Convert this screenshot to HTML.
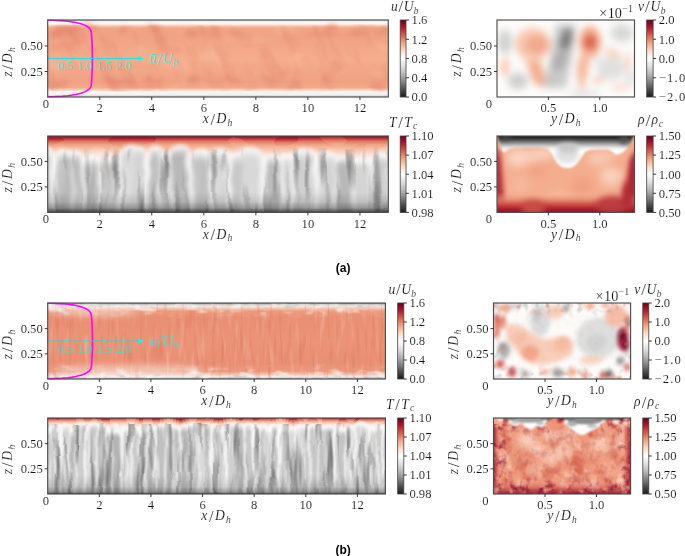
<!DOCTYPE html>
<html><head><meta charset="utf-8"><style>
html,body{margin:0;padding:0;background:#fff;}
body{width:685px;height:556px;overflow:hidden;}
svg{display:block;}
</style></head><body>
<svg width="685" height="556" viewBox="0 0 685 556">
<defs><linearGradient id="lg1" x1="0" y1="0" x2="0" y2="1"><stop offset="0.0000" stop-color="#d0d0d0"/><stop offset="0.0150" stop-color="#ececec"/><stop offset="0.0350" stop-color="#f9f9f9"/><stop offset="0.0550" stop-color="#fcefe8"/><stop offset="0.0850" stop-color="#f6bc9f"/><stop offset="0.1100" stop-color="#f2a687"/><stop offset="0.2000" stop-color="#f0a283"/><stop offset="0.5000" stop-color="#f5ad8c"/><stop offset="0.8000" stop-color="#f0a283"/><stop offset="0.8750" stop-color="#f3a98a"/><stop offset="0.9050" stop-color="#f8ccb8"/><stop offset="0.9300" stop-color="#fdf6f2"/><stop offset="0.9650" stop-color="#f4f4f4"/><stop offset="1.0000" stop-color="#c8c8c8"/></linearGradient>
<filter id="nf2" filterUnits="userSpaceOnUse" x="47.7" y="24.0" width="340.6" height="68.0" color-interpolation-filters="sRGB"><feTurbulence type="fractalNoise" baseFrequency="0.035 0.05" numOctaves="2" seed="5"/><feColorMatrix type="matrix" values="0 0 0 0 0.878431  0 0 0 0 0.478431  0 0 0 0 0.368627  1.6 0 0 0 -0.92"/></filter>
<filter id="nf3" filterUnits="userSpaceOnUse" x="47.7" y="24.0" width="340.6" height="68.0" color-interpolation-filters="sRGB"><feTurbulence type="fractalNoise" baseFrequency="0.03 0.04" numOctaves="2" seed="9"/><feColorMatrix type="matrix" values="0 0 0 0 0.988235  0 0 0 0 0.847059  0 0 0 0 0.776471  1.6 0 0 0 -0.92"/></filter>
<filter id="nf4" filterUnits="userSpaceOnUse" x="-12.3" y="-40.0" width="460.6" height="197.0" color-interpolation-filters="sRGB"><feTurbulence type="fractalNoise" baseFrequency="0.06 0.016" numOctaves="3" seed="15"/><feColorMatrix type="matrix" values="0 0 0 0 0.878431  0 0 0 0 0.478431  0 0 0 0 0.376471  2.4 0 0 0 -1.3"/></filter>
<clipPath id="cp5"><rect x="47.70" y="25.00" width="340.60" height="66.00"/></clipPath>
<filter id="bf6" filterUnits="userSpaceOnUse" x="27.7" y="0.0" width="380.6" height="117.0" color-interpolation-filters="sRGB"><feGaussianBlur stdDeviation="2.2"/></filter>
<clipPath id="cp7"><rect x="47.70" y="20.00" width="340.60" height="77.00"/></clipPath>
<clipPath id="cp8"><rect x="47.20" y="19.50" width="341.10" height="78.00"/></clipPath>
<filter id="df9" filterUnits="userSpaceOnUse" x="27.7" y="116.0" width="380.6" height="116.4" color-interpolation-filters="sRGB"><feTurbulence type="fractalNoise" baseFrequency="0.035 0.06" numOctaves="1" seed="11" result="t"/><feDisplacementMap in="SourceGraphic" in2="t" scale="4" xChannelSelector="R" yChannelSelector="G"/></filter>
<linearGradient id="lg10" x1="0" y1="136" x2="0" y2="212.4" gradientUnits="userSpaceOnUse"><stop offset="0.0000" stop-color="#8a0c28"/><stop offset="0.0200" stop-color="#a81c2e"/><stop offset="0.0450" stop-color="#c84a44"/><stop offset="0.0750" stop-color="#e08068"/><stop offset="0.1150" stop-color="#f0a486"/><stop offset="0.1700" stop-color="#f6c2aa"/><stop offset="0.2400" stop-color="#fbe0d4"/><stop offset="0.3200" stop-color="#fbf4f0"/><stop offset="0.4000" stop-color="#f6f6f6"/><stop offset="1.0000" stop-color="#f0f0f0"/></linearGradient>
<linearGradient id="lg11" x1="0" y1="0" x2="0" y2="1"><stop offset="0.0000" stop-color="#f4f4f4"/><stop offset="0.1400" stop-color="#cccccc"/><stop offset="1.0000" stop-color="#cccccc"/></linearGradient>
<linearGradient id="lg12" x1="0" y1="0" x2="0" y2="1"><stop offset="0.0000" stop-color="#f4f4f4"/><stop offset="0.1400" stop-color="#b8b8b8"/><stop offset="1.0000" stop-color="#b8b8b8"/></linearGradient>
<linearGradient id="lg13" x1="0" y1="0" x2="0" y2="1"><stop offset="0.0000" stop-color="#f4f4f4"/><stop offset="0.1400" stop-color="#bcbcbc"/><stop offset="1.0000" stop-color="#bcbcbc"/></linearGradient>
<linearGradient id="lg14" x1="0" y1="0" x2="0" y2="1"><stop offset="0.0000" stop-color="#f4f4f4"/><stop offset="0.1400" stop-color="#d4d4d4"/><stop offset="1.0000" stop-color="#d4d4d4"/></linearGradient>
<linearGradient id="lg15" x1="0" y1="0" x2="0" y2="1"><stop offset="0.0000" stop-color="#f4f4f4"/><stop offset="0.1400" stop-color="#c0c0c0"/><stop offset="1.0000" stop-color="#c0c0c0"/></linearGradient>
<linearGradient id="lg16" x1="0" y1="0" x2="0" y2="1"><stop offset="0.0000" stop-color="#f4f4f4"/><stop offset="0.1400" stop-color="#c8c8c8"/><stop offset="1.0000" stop-color="#c8c8c8"/></linearGradient>
<linearGradient id="lg17" x1="0" y1="0" x2="0" y2="1"><stop offset="0.0000" stop-color="#f4f4f4"/><stop offset="0.1400" stop-color="#d8d8d8"/><stop offset="1.0000" stop-color="#d8d8d8"/></linearGradient>
<linearGradient id="lg18" x1="0" y1="0" x2="0" y2="1"><stop offset="0.0000" stop-color="#f4f4f4"/><stop offset="0.1400" stop-color="#d0d0d0"/><stop offset="1.0000" stop-color="#d0d0d0"/></linearGradient>
<filter id="bf19" filterUnits="userSpaceOnUse" x="27.7" y="116.0" width="380.6" height="116.4" color-interpolation-filters="sRGB"><feGaussianBlur stdDeviation="1.9"/></filter>
<filter id="df20" filterUnits="userSpaceOnUse" x="27.7" y="116.0" width="380.6" height="116.4" color-interpolation-filters="sRGB"><feTurbulence type="fractalNoise" baseFrequency="0.025 0.05" numOctaves="1" seed="21" result="t"/><feDisplacementMap in="SourceGraphic" in2="t" scale="9" xChannelSelector="R" yChannelSelector="G"/></filter>
<filter id="df21" filterUnits="userSpaceOnUse" x="27.7" y="116.0" width="380.6" height="116.4" color-interpolation-filters="sRGB"><feTurbulence type="fractalNoise" baseFrequency="0.025 0.04" numOctaves="1" seed="27" result="t"/><feDisplacementMap in="SourceGraphic" in2="t" scale="7" xChannelSelector="R" yChannelSelector="G"/></filter>
<linearGradient id="lg23" x1="0" y1="146" x2="0" y2="166" gradientUnits="userSpaceOnUse"><stop offset="0.0000" stop-color="#000"/><stop offset="0.5000" stop-color="#fff"/><stop offset="1.0000" stop-color="#fff"/></linearGradient>
<mask id="mk22" maskUnits="userSpaceOnUse" x="27.7" y="116.0" width="380.6" height="116.4"><rect x="27.7" y="116.0" width="380.6" height="116.4" fill="url(#lg23)"/></mask>
<filter id="nf24" filterUnits="userSpaceOnUse" x="37.7" y="148.0" width="360.6" height="74.4" color-interpolation-filters="sRGB"><feTurbulence type="fractalNoise" baseFrequency="0.11 0.014" numOctaves="2" seed="4"/><feColorMatrix type="matrix" values="0 0 0 0 0.333333  0 0 0 0 0.333333  0 0 0 0 0.333333  2.6 0 0 0 -1.35"/></filter>
<filter id="nf25" filterUnits="userSpaceOnUse" x="37.7" y="150.0" width="360.6" height="72.4" color-interpolation-filters="sRGB"><feTurbulence type="fractalNoise" baseFrequency="0.07 0.014" numOctaves="2" seed="8"/><feColorMatrix type="matrix" values="0 0 0 0 1  0 0 0 0 1  0 0 0 0 1  2.2 0 0 0 -1.1"/></filter>
<linearGradient id="lg26" x1="0" y1="136" x2="0" y2="212.4" gradientUnits="userSpaceOnUse"><stop offset="0.0000" stop-color="#000" stop-opacity="0.000"/><stop offset="0.7400" stop-color="#000" stop-opacity="0.000"/><stop offset="0.8600" stop-color="#000" stop-opacity="0.100"/><stop offset="0.9400" stop-color="#000" stop-opacity="0.300"/><stop offset="1.0000" stop-color="#000" stop-opacity="0.680"/></linearGradient>
<clipPath id="cp27"><rect x="47.70" y="136.00" width="340.60" height="76.40"/></clipPath>
<filter id="bf28" filterUnits="userSpaceOnUse" x="467.0" y="-10.0" width="197.5" height="137.0" color-interpolation-filters="sRGB"><feGaussianBlur stdDeviation="3.8"/></filter>
<clipPath id="cp29"><rect x="497.00" y="20.00" width="137.50" height="77.00"/></clipPath>
<filter id="bf30" filterUnits="userSpaceOnUse" x="467.0" y="106.0" width="197.5" height="136.4" color-interpolation-filters="sRGB"><feGaussianBlur stdDeviation="4"/></filter>
<filter id="bf31" filterUnits="userSpaceOnUse" x="467.0" y="106.0" width="197.5" height="136.4" color-interpolation-filters="sRGB"><feGaussianBlur stdDeviation="2.6"/></filter>
<linearGradient id="lg32" x1="0" y1="212.4" x2="0" y2="192.4" gradientUnits="userSpaceOnUse"><stop offset="0.0000" stop-color="#8e0c2c"/><stop offset="0.2000" stop-color="#b3202f"/><stop offset="0.4500" stop-color="#d05a4c"/><stop offset="0.7000" stop-color="#e88a70" stop-opacity="0.600"/><stop offset="1.0000" stop-color="#f4ae8f" stop-opacity="0.000"/></linearGradient>
<filter id="bf33" filterUnits="userSpaceOnUse" x="467.0" y="106.0" width="197.5" height="136.4" color-interpolation-filters="sRGB"><feGaussianBlur stdDeviation="3.0"/></filter>
<linearGradient id="lg34" x1="0" y1="136" x2="0" y2="162" gradientUnits="userSpaceOnUse"><stop offset="0.0000" stop-color="#141414"/><stop offset="0.0800" stop-color="#2c2c2c"/><stop offset="0.1800" stop-color="#5c5c5c"/><stop offset="0.2900" stop-color="#9c9c9c"/><stop offset="0.3900" stop-color="#d0d0d0"/><stop offset="0.4800" stop-color="#f2f2f2"/><stop offset="0.5600" stop-color="#ffffff"/><stop offset="1.0000" stop-color="#ffffff"/></linearGradient>
<filter id="bf35" filterUnits="userSpaceOnUse" x="467.0" y="106.0" width="197.5" height="136.4" color-interpolation-filters="sRGB"><feGaussianBlur stdDeviation="1.3"/></filter>
<filter id="bf36" filterUnits="userSpaceOnUse" x="467.0" y="106.0" width="197.5" height="136.4" color-interpolation-filters="sRGB"><feGaussianBlur stdDeviation="2.4"/></filter>
<clipPath id="cp37"><rect x="497.00" y="136.00" width="137.50" height="76.40"/></clipPath>
<linearGradient id="lg38" x1="0" y1="0" x2="0" y2="1"><stop offset="0.0000" stop-color="#67001f"/><stop offset="0.1000" stop-color="#b2182b"/><stop offset="0.2000" stop-color="#d6604d"/><stop offset="0.3000" stop-color="#f4a582"/><stop offset="0.4000" stop-color="#fddbc7"/><stop offset="0.5000" stop-color="#ffffff"/><stop offset="0.6000" stop-color="#e0e0e0"/><stop offset="0.7000" stop-color="#bababa"/><stop offset="0.8000" stop-color="#878787"/><stop offset="0.9000" stop-color="#4d4d4d"/><stop offset="1.0000" stop-color="#1a1a1a"/></linearGradient>
<linearGradient id="lg39" x1="0" y1="0" x2="0" y2="1"><stop offset="0.0000" stop-color="#67001f"/><stop offset="0.1000" stop-color="#b2182b"/><stop offset="0.2000" stop-color="#d6604d"/><stop offset="0.3000" stop-color="#f4a582"/><stop offset="0.4000" stop-color="#fddbc7"/><stop offset="0.5000" stop-color="#ffffff"/><stop offset="0.6000" stop-color="#e0e0e0"/><stop offset="0.7000" stop-color="#bababa"/><stop offset="0.8000" stop-color="#878787"/><stop offset="0.9000" stop-color="#4d4d4d"/><stop offset="1.0000" stop-color="#1a1a1a"/></linearGradient>
<linearGradient id="lg40" x1="0" y1="0" x2="0" y2="1"><stop offset="0.0000" stop-color="#67001f"/><stop offset="0.1000" stop-color="#b2182b"/><stop offset="0.2000" stop-color="#d6604d"/><stop offset="0.3000" stop-color="#f4a582"/><stop offset="0.4000" stop-color="#fddbc7"/><stop offset="0.5000" stop-color="#ffffff"/><stop offset="0.6000" stop-color="#e0e0e0"/><stop offset="0.7000" stop-color="#bababa"/><stop offset="0.8000" stop-color="#878787"/><stop offset="0.9000" stop-color="#4d4d4d"/><stop offset="1.0000" stop-color="#1a1a1a"/></linearGradient>
<linearGradient id="lg41" x1="0" y1="0" x2="0" y2="1"><stop offset="0.0000" stop-color="#67001f"/><stop offset="0.1000" stop-color="#b2182b"/><stop offset="0.2000" stop-color="#d6604d"/><stop offset="0.3000" stop-color="#f4a582"/><stop offset="0.4000" stop-color="#fddbc7"/><stop offset="0.5000" stop-color="#ffffff"/><stop offset="0.6000" stop-color="#e0e0e0"/><stop offset="0.7000" stop-color="#bababa"/><stop offset="0.8000" stop-color="#878787"/><stop offset="0.9000" stop-color="#4d4d4d"/><stop offset="1.0000" stop-color="#1a1a1a"/></linearGradient>
<linearGradient id="lg42" x1="0" y1="0" x2="0" y2="1"><stop offset="0.0000" stop-color="#8a8a8a"/><stop offset="0.0200" stop-color="#c4c4c4"/><stop offset="0.0400" stop-color="#eeeae8"/><stop offset="0.0700" stop-color="#f4c8b4"/><stop offset="0.1100" stop-color="#ec9a7c"/><stop offset="0.2000" stop-color="#e98f72"/><stop offset="0.5000" stop-color="#eb9476"/><stop offset="0.8000" stop-color="#e98f72"/><stop offset="0.9000" stop-color="#ec9a7e"/><stop offset="0.9400" stop-color="#f3c4b0"/><stop offset="0.9650" stop-color="#f4ecea"/><stop offset="0.9850" stop-color="#d0d0d0"/><stop offset="1.0000" stop-color="#909090"/></linearGradient>
<filter id="nf43" filterUnits="userSpaceOnUse" x="47.7" y="303.0" width="337.7" height="76.0" color-interpolation-filters="sRGB"><feTurbulence type="fractalNoise" baseFrequency="0.25 0.03" numOctaves="2" seed="3"/><feColorMatrix type="matrix" values="0 0 0 0 0.831373  0 0 0 0 0.4  0 0 0 0 0.313725  1.8 0 0 0 -0.98"/></filter>
<filter id="nf44" filterUnits="userSpaceOnUse" x="47.7" y="303.0" width="337.7" height="76.0" color-interpolation-filters="sRGB"><feTurbulence type="fractalNoise" baseFrequency="0.2 0.03" numOctaves="2" seed="7"/><feColorMatrix type="matrix" values="0 0 0 0 0.984314  0 0 0 0 0.823529  0 0 0 0 0.74902  1.8 0 0 0 -0.98"/></filter>
<filter id="bf46" filterUnits="userSpaceOnUse" x="17.7" y="273.0" width="397.7" height="136.0" color-interpolation-filters="sRGB"><feGaussianBlur stdDeviation="3"/></filter>
<mask id="mk45" maskUnits="userSpaceOnUse" x="42.7" y="298.0" width="347.7" height="86.0"><rect x="42.7" y="298.0" width="347.7" height="86.0" fill="#fff"/><rect x="27.7" y="314.0" width="377.7" height="54.0" fill="rgb(0,0,0)" filter="url(#bf46)"/></mask>
<filter id="nf47" filterUnits="userSpaceOnUse" x="47.7" y="303.0" width="337.7" height="76.0" color-interpolation-filters="sRGB"><feTurbulence type="fractalNoise" baseFrequency="0.07 0.14" numOctaves="2" seed="19"/><feColorMatrix type="matrix" values="0 0 0 0 0.992157  0 0 0 0 0.964706  0 0 0 0 0.952941  3.2 0 0 0 -1.6"/></filter>
<filter id="bf49" filterUnits="userSpaceOnUse" x="17.7" y="273.0" width="397.7" height="136.0" color-interpolation-filters="sRGB"><feGaussianBlur stdDeviation="1.5"/></filter>
<mask id="mk48" maskUnits="userSpaceOnUse" x="42.7" y="298.0" width="347.7" height="86.0"><rect x="42.7" y="298.0" width="347.7" height="86.0" fill="#fff"/><rect x="27.7" y="308.0" width="377.7" height="66.0" fill="rgb(0,0,0)" filter="url(#bf49)"/></mask>
<filter id="nf50" filterUnits="userSpaceOnUse" x="47.7" y="303.0" width="337.7" height="76.0" color-interpolation-filters="sRGB"><feTurbulence type="fractalNoise" baseFrequency="0.08 0.2" numOctaves="2" seed="23"/><feColorMatrix type="matrix" values="0 0 0 0 0.603922  0 0 0 0 0.603922  0 0 0 0 0.603922  3.4 0 0 0 -1.95"/></filter>
<filter id="bf51" filterUnits="userSpaceOnUse" x="27.7" y="283.0" width="377.7" height="116.0" color-interpolation-filters="sRGB"><feGaussianBlur stdDeviation="4"/></filter>
<clipPath id="cp52"><rect x="47.70" y="303.00" width="337.70" height="76.00"/></clipPath>
<clipPath id="cp53"><rect x="47.20" y="302.50" width="338.20" height="77.00"/></clipPath>
<filter id="df54" filterUnits="userSpaceOnUse" x="27.7" y="398.0" width="377.7" height="116.0" color-interpolation-filters="sRGB"><feTurbulence type="fractalNoise" baseFrequency="0.08 0.05" numOctaves="1" seed="13" result="t"/><feDisplacementMap in="SourceGraphic" in2="t" scale="7" xChannelSelector="R" yChannelSelector="G"/></filter>
<linearGradient id="lg55" x1="0" y1="418" x2="0" y2="494" gradientUnits="userSpaceOnUse"><stop offset="0.0000" stop-color="#9a1a30"/><stop offset="0.0200" stop-color="#d26a58"/><stop offset="0.0450" stop-color="#f0ae96"/><stop offset="0.0750" stop-color="#f9d8cb"/><stop offset="0.1100" stop-color="#f8f2f0"/><stop offset="0.1500" stop-color="#f4f4f4"/><stop offset="1.0000" stop-color="#f0f0f0"/></linearGradient>
<linearGradient id="lg56" x1="0" y1="0" x2="0" y2="1"><stop offset="0.0000" stop-color="#f4f4f4"/><stop offset="0.0800" stop-color="#d8d8d8"/><stop offset="1.0000" stop-color="#d8d8d8"/></linearGradient>
<linearGradient id="lg57" x1="0" y1="0" x2="0" y2="1"><stop offset="0.0000" stop-color="#f4f4f4"/><stop offset="0.0800" stop-color="#cccccc"/><stop offset="1.0000" stop-color="#cccccc"/></linearGradient>
<linearGradient id="lg58" x1="0" y1="0" x2="0" y2="1"><stop offset="0.0000" stop-color="#f4f4f4"/><stop offset="0.0800" stop-color="#d0d0d0"/><stop offset="1.0000" stop-color="#d0d0d0"/></linearGradient>
<linearGradient id="lg59" x1="0" y1="0" x2="0" y2="1"><stop offset="0.0000" stop-color="#f4f4f4"/><stop offset="0.0800" stop-color="#d4d4d4"/><stop offset="1.0000" stop-color="#d4d4d4"/></linearGradient>
<linearGradient id="lg60" x1="0" y1="0" x2="0" y2="1"><stop offset="0.0000" stop-color="#f4f4f4"/><stop offset="0.0800" stop-color="#b8b8b8"/><stop offset="1.0000" stop-color="#b8b8b8"/></linearGradient>
<linearGradient id="lg61" x1="0" y1="0" x2="0" y2="1"><stop offset="0.0000" stop-color="#f4f4f4"/><stop offset="0.0800" stop-color="#c8c8c8"/><stop offset="1.0000" stop-color="#c8c8c8"/></linearGradient>
<linearGradient id="lg62" x1="0" y1="0" x2="0" y2="1"><stop offset="0.0000" stop-color="#f4f4f4"/><stop offset="0.0800" stop-color="#b4b4b4"/><stop offset="1.0000" stop-color="#b4b4b4"/></linearGradient>
<linearGradient id="lg63" x1="0" y1="0" x2="0" y2="1"><stop offset="0.0000" stop-color="#f4f4f4"/><stop offset="0.0800" stop-color="#c0c0c0"/><stop offset="1.0000" stop-color="#c0c0c0"/></linearGradient>
<linearGradient id="lg64" x1="0" y1="0" x2="0" y2="1"><stop offset="0.0000" stop-color="#f4f4f4"/><stop offset="0.0800" stop-color="#bcbcbc"/><stop offset="1.0000" stop-color="#bcbcbc"/></linearGradient>
<linearGradient id="lg65" x1="0" y1="0" x2="0" y2="1"><stop offset="0.0000" stop-color="#f4f4f4"/><stop offset="0.0800" stop-color="#c4c4c4"/><stop offset="1.0000" stop-color="#c4c4c4"/></linearGradient>
<filter id="bf66" filterUnits="userSpaceOnUse" x="27.7" y="398.0" width="377.7" height="116.0" color-interpolation-filters="sRGB"><feGaussianBlur stdDeviation="0.9"/></filter>
<filter id="df67" filterUnits="userSpaceOnUse" x="27.7" y="398.0" width="377.7" height="116.0" color-interpolation-filters="sRGB"><feTurbulence type="fractalNoise" baseFrequency="0.04 0.06" numOctaves="1" seed="23" result="t"/><feDisplacementMap in="SourceGraphic" in2="t" scale="5" xChannelSelector="R" yChannelSelector="G"/></filter>
<filter id="df68" filterUnits="userSpaceOnUse" x="27.7" y="398.0" width="377.7" height="116.0" color-interpolation-filters="sRGB"><feTurbulence type="fractalNoise" baseFrequency="0.03 0.05" numOctaves="1" seed="29" result="t"/><feDisplacementMap in="SourceGraphic" in2="t" scale="6" xChannelSelector="R" yChannelSelector="G"/></filter>
<filter id="nf69" filterUnits="userSpaceOnUse" x="37.7" y="424.0" width="357.7" height="80.0" color-interpolation-filters="sRGB"><feTurbulence type="fractalNoise" baseFrequency="0.15 0.018" numOctaves="2" seed="4"/><feColorMatrix type="matrix" values="0 0 0 0 0.290196  0 0 0 0 0.290196  0 0 0 0 0.290196  2.6 0 0 0 -1.3"/></filter>
<filter id="nf70" filterUnits="userSpaceOnUse" x="37.7" y="424.0" width="357.7" height="80.0" color-interpolation-filters="sRGB"><feTurbulence type="fractalNoise" baseFrequency="0.14 0.018" numOctaves="2" seed="8"/><feColorMatrix type="matrix" values="0 0 0 0 1  0 0 0 0 1  0 0 0 0 1  2.6 0 0 0 -1.3"/></filter>
<linearGradient id="lg71" x1="0" y1="418" x2="0" y2="494" gradientUnits="userSpaceOnUse"><stop offset="0.0000" stop-color="#000" stop-opacity="0.000"/><stop offset="0.7500" stop-color="#000" stop-opacity="0.000"/><stop offset="0.9000" stop-color="#000" stop-opacity="0.100"/><stop offset="0.9700" stop-color="#000" stop-opacity="0.300"/><stop offset="1.0000" stop-color="#000" stop-opacity="0.600"/></linearGradient>
<clipPath id="cp72"><rect x="47.70" y="418.00" width="337.70" height="76.00"/></clipPath>
<filter id="bf73" filterUnits="userSpaceOnUse" x="463.5" y="273.0" width="197.1" height="136.0" color-interpolation-filters="sRGB"><feGaussianBlur stdDeviation="2.2"/></filter>
<filter id="bf75" filterUnits="userSpaceOnUse" x="463.5" y="273.0" width="197.1" height="136.0" color-interpolation-filters="sRGB"><feGaussianBlur stdDeviation="3"/></filter>
<mask id="mk74" maskUnits="userSpaceOnUse" x="488.5" y="298.0" width="147.1" height="86.0"><rect x="488.5" y="298.0" width="147.1" height="86.0" fill="#fff"/><rect x="502.5" y="312.0" width="119.1" height="58.0" fill="rgb(25,25,25)" filter="url(#bf75)"/></mask>
<filter id="nf76" filterUnits="userSpaceOnUse" x="493.5" y="303.0" width="137.1" height="76.0" color-interpolation-filters="sRGB"><feTurbulence type="fractalNoise" baseFrequency="0.13 0.11" numOctaves="2" seed="31"/><feColorMatrix type="matrix" values="0 0 0 0 0.886275  0 0 0 0 0.478431  0 0 0 0 0.384314  3.4 0 0 0 -1.9"/></filter>
<filter id="nf77" filterUnits="userSpaceOnUse" x="493.5" y="303.0" width="137.1" height="76.0" color-interpolation-filters="sRGB"><feTurbulence type="fractalNoise" baseFrequency="0.13 0.11" numOctaves="2" seed="37"/><feColorMatrix type="matrix" values="0 0 0 0 0.603922  0 0 0 0 0.603922  0 0 0 0 0.603922  3.4 0 0 0 -1.9"/></filter>
<clipPath id="cp78"><rect x="493.50" y="303.00" width="137.10" height="76.00"/></clipPath>
<filter id="bf79" filterUnits="userSpaceOnUse" x="463.5" y="388.0" width="197.1" height="136.0" color-interpolation-filters="sRGB"><feGaussianBlur stdDeviation="3.0"/></filter>
<filter id="nf80" filterUnits="userSpaceOnUse" x="493.5" y="418.0" width="137.1" height="76.0" color-interpolation-filters="sRGB"><feTurbulence type="fractalNoise" baseFrequency="0.07 0.06" numOctaves="3" seed="43"/><feColorMatrix type="matrix" values="0 0 0 0 0.988235  0 0 0 0 0.862745  0 0 0 0 0.8  3.2 0 0 0 -1.7"/></filter>
<filter id="nf81" filterUnits="userSpaceOnUse" x="493.5" y="418.0" width="137.1" height="76.0" color-interpolation-filters="sRGB"><feTurbulence type="fractalNoise" baseFrequency="0.07 0.06" numOctaves="3" seed="47"/><feColorMatrix type="matrix" values="0 0 0 0 0.815686  0 0 0 0 0.329412  0 0 0 0 0.247059  3.2 0 0 0 -1.7"/></filter>
<linearGradient id="lg82" x1="493.5" y1="0" x2="501.5" y2="0" gradientUnits="userSpaceOnUse"><stop offset="0.0000" stop-color="#8a0e2e" stop-opacity="0.900"/><stop offset="0.3500" stop-color="#b42a36" stop-opacity="0.600"/><stop offset="1.0000" stop-color="#f0a286" stop-opacity="0.000"/></linearGradient>
<linearGradient id="lg83" x1="630.6" y1="0" x2="621.6" y2="0" gradientUnits="userSpaceOnUse"><stop offset="0.0000" stop-color="#8a0e2e" stop-opacity="0.900"/><stop offset="0.3500" stop-color="#b42a36" stop-opacity="0.600"/><stop offset="1.0000" stop-color="#f0a286" stop-opacity="0.000"/></linearGradient>
<linearGradient id="lg84" x1="0" y1="494" x2="0" y2="480" gradientUnits="userSpaceOnUse"><stop offset="0.0000" stop-color="#8a0e2e" stop-opacity="0.900"/><stop offset="0.3500" stop-color="#b42a36" stop-opacity="0.600"/><stop offset="1.0000" stop-color="#f0a286" stop-opacity="0.000"/></linearGradient>
<filter id="bf86" filterUnits="userSpaceOnUse" x="463.5" y="388.0" width="197.1" height="136.0" color-interpolation-filters="sRGB"><feGaussianBlur stdDeviation="4"/></filter>
<mask id="mk85" maskUnits="userSpaceOnUse" x="488.5" y="413.0" width="147.1" height="86.0"><rect x="488.5" y="413.0" width="147.1" height="86.0" fill="#fff"/><rect x="503.5" y="428.0" width="117.1" height="56.0" fill="rgb(45,45,45)" filter="url(#bf86)"/></mask>
<filter id="nf87" filterUnits="userSpaceOnUse" x="493.5" y="418.0" width="137.1" height="76.0" color-interpolation-filters="sRGB"><feTurbulence type="fractalNoise" baseFrequency="0.13 0.12" numOctaves="3" seed="41"/><feColorMatrix type="matrix" values="0 0 0 0 0.556863  0 0 0 0 0.0705882  0 0 0 0 0.188235  3.6 0 0 0 -1.75"/></filter>
<filter id="nf88" filterUnits="userSpaceOnUse" x="493.5" y="418.0" width="137.1" height="76.0" color-interpolation-filters="sRGB"><feTurbulence type="fractalNoise" baseFrequency="0.14 0.14" numOctaves="2" seed="45"/><feColorMatrix type="matrix" values="0 0 0 0 0.956863  0 0 0 0 0.721569  0 0 0 0 0.627451  3.4 0 0 0 -1.75"/></filter>
<filter id="bf89" filterUnits="userSpaceOnUse" x="463.5" y="388.0" width="197.1" height="136.0" color-interpolation-filters="sRGB"><feGaussianBlur stdDeviation="0.9"/></filter>
<filter id="bf90" filterUnits="userSpaceOnUse" x="463.5" y="388.0" width="197.1" height="136.0" color-interpolation-filters="sRGB"><feGaussianBlur stdDeviation="1.0"/></filter>
<filter id="bf91" filterUnits="userSpaceOnUse" x="463.5" y="388.0" width="197.1" height="136.0" color-interpolation-filters="sRGB"><feGaussianBlur stdDeviation="0.9"/></filter>
<clipPath id="cp92"><rect x="493.50" y="418.00" width="137.10" height="76.00"/></clipPath>
<linearGradient id="lg93" x1="0" y1="0" x2="0" y2="1"><stop offset="0.0000" stop-color="#67001f"/><stop offset="0.1000" stop-color="#b2182b"/><stop offset="0.2000" stop-color="#d6604d"/><stop offset="0.3000" stop-color="#f4a582"/><stop offset="0.4000" stop-color="#fddbc7"/><stop offset="0.5000" stop-color="#ffffff"/><stop offset="0.6000" stop-color="#e0e0e0"/><stop offset="0.7000" stop-color="#bababa"/><stop offset="0.8000" stop-color="#878787"/><stop offset="0.9000" stop-color="#4d4d4d"/><stop offset="1.0000" stop-color="#1a1a1a"/></linearGradient>
<linearGradient id="lg94" x1="0" y1="0" x2="0" y2="1"><stop offset="0.0000" stop-color="#67001f"/><stop offset="0.1000" stop-color="#b2182b"/><stop offset="0.2000" stop-color="#d6604d"/><stop offset="0.3000" stop-color="#f4a582"/><stop offset="0.4000" stop-color="#fddbc7"/><stop offset="0.5000" stop-color="#ffffff"/><stop offset="0.6000" stop-color="#e0e0e0"/><stop offset="0.7000" stop-color="#bababa"/><stop offset="0.8000" stop-color="#878787"/><stop offset="0.9000" stop-color="#4d4d4d"/><stop offset="1.0000" stop-color="#1a1a1a"/></linearGradient>
<linearGradient id="lg95" x1="0" y1="0" x2="0" y2="1"><stop offset="0.0000" stop-color="#67001f"/><stop offset="0.1000" stop-color="#b2182b"/><stop offset="0.2000" stop-color="#d6604d"/><stop offset="0.3000" stop-color="#f4a582"/><stop offset="0.4000" stop-color="#fddbc7"/><stop offset="0.5000" stop-color="#ffffff"/><stop offset="0.6000" stop-color="#e0e0e0"/><stop offset="0.7000" stop-color="#bababa"/><stop offset="0.8000" stop-color="#878787"/><stop offset="0.9000" stop-color="#4d4d4d"/><stop offset="1.0000" stop-color="#1a1a1a"/></linearGradient>
<linearGradient id="lg96" x1="0" y1="0" x2="0" y2="1"><stop offset="0.0000" stop-color="#67001f"/><stop offset="0.1000" stop-color="#b2182b"/><stop offset="0.2000" stop-color="#d6604d"/><stop offset="0.3000" stop-color="#f4a582"/><stop offset="0.4000" stop-color="#fddbc7"/><stop offset="0.5000" stop-color="#ffffff"/><stop offset="0.6000" stop-color="#e0e0e0"/><stop offset="0.7000" stop-color="#bababa"/><stop offset="0.8000" stop-color="#878787"/><stop offset="0.9000" stop-color="#4d4d4d"/><stop offset="1.0000" stop-color="#1a1a1a"/></linearGradient></defs>
<rect x="0" y="0" width="685" height="556" fill="#fff"/>
<g opacity="0.995">
<g clip-path="url(#cp7)"><rect x="47.70" y="20.00" width="340.60" height="77.00" fill="url(#lg1)"/><g opacity="0.550"><rect x="47.70" y="24.00" width="340.60" height="68.00" fill="#000" filter="url(#nf2)"/></g><g opacity="0.550"><rect x="47.70" y="24.00" width="340.60" height="68.00" fill="#000" filter="url(#nf3)"/></g><g opacity="0.4" clip-path="url(#cp5)"><rect x="-12.3" y="-40.0" width="460.6" height="197.0" fill="#000" filter="url(#nf4)" transform="rotate(-25 218.0 58.5)"/></g><g filter="url(#bf6)"><ellipse cx="57.6" cy="33.4" rx="9.7" ry="4.0" fill="#e2826a" fill-opacity="0.58" transform="rotate(-28 55.7 31.0)"/><ellipse cx="59.2" cy="84.8" rx="9.5" ry="2.7" fill="#e2826a" fill-opacity="0.47" transform="rotate(-15 55.7 83.5)"/><ellipse cx="72.3" cy="28.7" rx="6.4" ry="4.3" fill="#e2826a" fill-opacity="0.54" transform="rotate(-20 76.2 31.0)"/><ellipse cx="88.9" cy="27.0" rx="9.4" ry="2.9" fill="#e2826a" fill-opacity="0.40" transform="rotate(29 91.9 31.0)"/><ellipse cx="110.8" cy="80.8" rx="9.7" ry="3.9" fill="#e2826a" fill-opacity="0.59" transform="rotate(24 109.4 83.5)"/><ellipse cx="124.3" cy="28.2" rx="5.3" ry="3.1" fill="#e2826a" fill-opacity="0.50" transform="rotate(-30 126.9 31.0)"/><ellipse cx="125.7" cy="81.8" rx="9.1" ry="3.5" fill="#e2826a" fill-opacity="0.43" transform="rotate(-1 126.9 83.5)"/><ellipse cx="153.2" cy="27.2" rx="8.7" ry="4.2" fill="#e2826a" fill-opacity="0.35" transform="rotate(17 149.4 31.0)"/><ellipse cx="150.0" cy="79.1" rx="5.2" ry="2.9" fill="#e2826a" fill-opacity="0.59" transform="rotate(-18 149.4 83.5)"/><ellipse cx="190.8" cy="33.2" rx="5.5" ry="4.0" fill="#e2826a" fill-opacity="0.55" transform="rotate(22 190.6 31.0)"/><ellipse cx="194.2" cy="79.8" rx="6.7" ry="3.7" fill="#e2826a" fill-opacity="0.58" transform="rotate(-10 190.6 83.5)"/><ellipse cx="214.2" cy="29.5" rx="5.9" ry="2.7" fill="#e2826a" fill-opacity="0.39" transform="rotate(11 215.7 31.0)"/><ellipse cx="235.5" cy="31.3" rx="7.0" ry="3.0" fill="#e2826a" fill-opacity="0.50" transform="rotate(20 231.6 31.0)"/><ellipse cx="231.0" cy="79.5" rx="9.6" ry="2.6" fill="#e2826a" fill-opacity="0.47" transform="rotate(20 231.6 83.5)"/><ellipse cx="268.2" cy="80.3" rx="9.2" ry="3.1" fill="#e2826a" fill-opacity="0.46" transform="rotate(30 268.8 83.5)"/><ellipse cx="292.9" cy="85.6" rx="7.4" ry="3.1" fill="#e2826a" fill-opacity="0.45" transform="rotate(-21 293.0 83.5)"/><ellipse cx="331.7" cy="27.7" rx="6.4" ry="4.1" fill="#e2826a" fill-opacity="0.57" transform="rotate(-8 333.0 31.0)"/><ellipse cx="357.7" cy="33.1" rx="6.8" ry="3.9" fill="#e2826a" fill-opacity="0.42" transform="rotate(-1 356.3 31.0)"/><ellipse cx="382.2" cy="32.2" rx="7.9" ry="2.5" fill="#e2826a" fill-opacity="0.49" transform="rotate(-15 378.6 31.0)"/><ellipse cx="378.3" cy="86.4" rx="8.2" ry="4.1" fill="#e2826a" fill-opacity="0.44" transform="rotate(9 378.6 83.5)"/></g></g>
<path d="M45.85,20.00 L61.91,20.64 L68.07,21.28 L72.47,21.93 L75.90,22.57 L78.69,23.21 L81.00,23.85 L82.93,24.49 L84.56,25.13 L85.92,25.77 L87.07,26.42 L88.03,27.06 L88.82,27.70 L89.47,28.34 L89.99,28.98 L90.41,29.62 L90.73,30.27 L90.97,30.91 L91.15,31.55 L91.28,32.19 L91.37,32.83 L91.43,33.48 L91.48,34.12 L91.53,34.76 L91.58,35.40 L91.62,36.04 L91.67,36.68 L91.71,37.33 L91.75,37.97 L91.79,38.61 L91.83,39.25 L91.87,39.89 L91.91,40.53 L91.94,41.17 L91.98,41.82 L92.01,42.46 L92.04,43.10 L92.07,43.74 L92.10,44.38 L92.13,45.03 L92.15,45.67 L92.18,46.31 L92.20,46.95 L92.23,47.59 L92.25,48.23 L92.27,48.88 L92.29,49.52 L92.30,50.16 L92.32,50.80 L92.34,51.44 L92.35,52.08 L92.36,52.73 L92.37,53.37 L92.38,54.01 L92.39,54.65 L92.40,55.29 L92.40,55.93 L92.41,56.57 L92.41,57.22 L92.41,57.86 L92.41,58.50 L92.41,59.14 L92.41,59.78 L92.41,60.43 L92.40,61.07 L92.40,61.71 L92.39,62.35 L92.38,62.99 L92.37,63.63 L92.36,64.28 L92.35,64.92 L92.34,65.56 L92.32,66.20 L92.30,66.84 L92.29,67.48 L92.27,68.12 L92.25,68.77 L92.23,69.41 L92.20,70.05 L92.18,70.69 L92.15,71.33 L92.13,71.97 L92.10,72.62 L92.07,73.26 L92.04,73.90 L92.01,74.54 L91.98,75.18 L91.94,75.82 L91.91,76.47 L91.87,77.11 L91.83,77.75 L91.79,78.39 L91.75,79.03 L91.71,79.68 L91.67,80.32 L91.62,80.96 L91.58,81.60 L91.53,82.24 L91.48,82.88 L91.43,83.53 L91.37,84.17 L91.28,84.81 L91.15,85.45 L90.97,86.09 L90.73,86.73 L90.41,87.38 L89.99,88.02 L89.47,88.66 L88.82,89.30 L88.03,89.94 L87.07,90.58 L85.92,91.23 L84.56,91.87 L82.93,92.51 L81.00,93.15 L78.69,93.79 L75.90,94.43 L72.47,95.08 L68.07,95.72 L61.91,96.36 L45.85,97.00" fill="none" stroke="#ff00ff" stroke-width="1.6" clip-path="url(#cp8)"/>
<line x1="47.70" y1="58.50" x2="139.20" y2="58.50" stroke="#00e8e8" stroke-width="1.1" opacity="0.85"/>
<path d="M144.20,58.50 L137.70,55.70 L139.00,58.50 L137.70,61.30 Z" fill="#00ffff"/>
<circle cx="65.30" cy="58.50" r="1.1" fill="#00ffff"/>
<text x="65.30" y="70.30" text-anchor="middle" font-size="12.2" font-family="Liberation Serif, serif" fill="#18f0ea" fill-opacity="0.78">0.5</text>
<circle cx="84.75" cy="58.50" r="1.1" fill="#00ffff"/>
<text x="84.75" y="70.30" text-anchor="middle" font-size="12.2" font-family="Liberation Serif, serif" fill="#18f0ea" fill-opacity="0.78">1.0</text>
<circle cx="104.20" cy="58.50" r="1.1" fill="#00ffff"/>
<text x="104.20" y="70.30" text-anchor="middle" font-size="12.2" font-family="Liberation Serif, serif" fill="#18f0ea" fill-opacity="0.78">1.5</text>
<circle cx="123.65" cy="58.50" r="1.1" fill="#00ffff"/>
<text x="123.65" y="70.30" text-anchor="middle" font-size="12.2" font-family="Liberation Serif, serif" fill="#18f0ea" fill-opacity="0.78">2.0</text>
<text x="149.20" y="63.30" font-size="14.4" textLength="29" lengthAdjust="spacing" font-family="Liberation Serif, serif" fill="#18f0ea" fill-opacity="0.82"><tspan font-style="italic">&#363;</tspan><tspan dx="0.6" dy="1.3" font-size="17.5">/</tspan><tspan font-style="italic" dx="0.4" dy="-1.3">U</tspan><tspan font-style="italic" font-size="10.2" dy="2.6">b</tspan></text>
<g clip-path="url(#cp27)"><g filter="url(#df9)"><rect x="27.70" y="116.00" width="380.60" height="116.40" fill="url(#lg10)"/></g><g filter="url(#bf19)"><g filter="url(#df20)"><path d="M38.90,218.40 L36.33,153.22 C36.33,147.80 41.32,146.06 44.73,146.06 C48.13,146.06 53.12,147.80 53.12,153.22 L55.68,218.40 Z" fill="#fdfbfa"/><path d="M54.08,218.40 L54.13,157.79 C54.13,151.49 59.88,149.29 64.21,149.29 C68.55,149.29 74.30,151.49 74.30,157.79 L74.26,218.40 Z" fill="#fdfbfa"/><path d="M72.66,218.40 L70.20,155.62 C70.20,151.40 74.15,150.30 76.30,150.30 C78.44,150.30 82.40,151.40 82.40,155.62 L84.86,218.40 Z" fill="#fdfbfa"/><path d="M83.26,218.40 L81.59,164.00 C81.59,158.16 86.94,156.20 90.79,156.20 C94.64,156.20 99.99,158.16 99.99,164.00 L101.65,218.40 Z" fill="#fdfbfa"/><path d="M100.05,218.40 L99.43,167.11 C99.43,160.43 105.51,158.02 110.25,158.02 C114.99,158.02 121.07,160.43 121.07,167.11 L121.69,218.40 Z" fill="#fdfbfa"/><path d="M120.09,218.40 L118.82,155.83 C118.82,147.69 126.16,144.50 132.43,144.50 C138.71,144.50 146.04,147.69 146.04,155.83 L147.31,218.40 Z" fill="#fdfbfa"/><path d="M145.71,218.40 L147.60,151.57 C147.60,146.90 151.94,145.57 154.56,145.57 C157.17,145.57 161.51,146.90 161.51,151.57 L159.61,218.40 Z" fill="#fdfbfa"/><path d="M158.01,218.40 L157.25,158.76 C157.25,153.94 161.72,152.52 164.49,152.52 C167.27,152.52 171.74,153.94 171.74,158.76 L172.51,218.40 Z" fill="#fdfbfa"/><path d="M170.91,218.40 L169.14,153.33 C169.14,146.98 174.93,144.74 179.32,144.74 C183.71,144.74 189.51,146.98 189.51,153.33 L191.27,218.40 Z" fill="#fdfbfa"/><path d="M189.67,218.40 L190.18,159.65 C190.18,152.75 196.45,150.21 201.43,150.21 C206.40,150.21 212.67,152.75 212.67,159.65 L212.16,218.40 Z" fill="#fdfbfa"/><path d="M210.56,218.40 L211.75,156.28 C211.75,150.32 217.20,148.30 221.18,148.30 C225.15,148.30 230.60,150.32 230.60,156.28 L229.41,218.40 Z" fill="#fdfbfa"/><path d="M227.81,218.40 L230.06,159.06 C230.06,153.97 234.76,152.42 237.81,152.42 C240.87,152.42 245.56,153.97 245.56,159.06 L243.31,218.40 Z" fill="#fdfbfa"/><path d="M241.71,218.40 L239.42,157.87 C239.42,150.76 245.87,148.12 251.06,148.12 C256.25,148.12 262.69,150.76 262.69,157.87 L264.98,218.40 Z" fill="#fdfbfa"/><path d="M263.38,218.40 L263.32,162.91 C263.32,157.10 268.64,155.16 272.46,155.16 C276.28,155.16 281.61,157.10 281.61,162.91 L281.67,218.40 Z" fill="#fdfbfa"/><path d="M280.07,218.40 L280.51,159.15 C280.51,154.92 284.47,153.82 286.63,153.82 C288.78,153.82 292.74,154.92 292.74,159.15 L292.30,218.40 Z" fill="#fdfbfa"/><path d="M290.70,218.40 L291.27,159.19 C291.27,151.48 298.24,148.51 304.07,148.51 C309.90,148.51 316.88,151.48 316.88,159.19 L316.31,218.40 Z" fill="#fdfbfa"/><path d="M314.71,218.40 L317.38,159.43 C317.38,152.95 323.28,150.64 327.82,150.64 C332.35,150.64 338.26,152.95 338.26,159.43 L335.59,218.40 Z" fill="#fdfbfa"/><path d="M333.99,218.40 L335.20,161.88 C335.20,155.83 340.72,153.76 344.79,153.76 C348.86,153.76 354.38,155.83 354.38,161.88 L353.17,218.40 Z" fill="#fdfbfa"/><path d="M351.57,218.40 L350.28,167.92 C350.28,161.15 356.43,158.70 361.26,158.70 C366.09,158.70 372.23,161.15 372.23,167.92 L373.53,218.40 Z" fill="#fdfbfa"/><path d="M371.93,218.40 L371.70,161.38 C371.70,155.70 376.91,153.83 380.58,153.83 C384.26,153.83 389.47,155.70 389.47,161.38 L389.70,218.40 Z" fill="#fdfbfa"/><path d="M388.10,218.40 L389.71,151.71 C389.71,146.94 394.13,145.56 396.85,145.56 C399.57,145.56 404.00,146.94 404.00,151.71 L402.39,218.40 Z" fill="#fdfbfa"/><path d="M41.10,218.40 L38.53,153.22 C38.53,150.00 41.32,148.26 44.73,148.26 C48.13,148.26 50.92,150.00 50.92,153.22 L53.48,218.40 Z" fill="url(#lg11)"/><path d="M56.28,218.40 L56.33,157.79 C56.33,153.69 59.88,151.49 64.21,151.49 C68.55,151.49 72.10,153.69 72.10,157.79 L72.06,218.40 Z" fill="url(#lg12)"/><path d="M74.86,218.40 L72.40,155.62 C72.40,153.60 74.15,152.50 76.30,152.50 C78.44,152.50 80.20,153.60 80.20,155.62 L82.66,218.40 Z" fill="url(#lg12)"/><path d="M85.46,218.40 L83.79,164.00 C83.79,160.36 86.94,158.40 90.79,158.40 C94.64,158.40 97.79,160.36 97.79,164.00 L99.45,218.40 Z" fill="url(#lg13)"/><path d="M102.25,218.40 L101.63,167.11 C101.63,162.63 105.51,160.22 110.25,160.22 C114.99,160.22 118.87,162.63 118.87,167.11 L119.49,218.40 Z" fill="url(#lg11)"/><path d="M122.29,218.40 L121.02,155.83 C121.02,149.89 126.16,146.70 132.43,146.70 C138.71,146.70 143.84,149.89 143.84,155.83 L145.11,218.40 Z" fill="url(#lg14)"/><path d="M147.91,218.40 L149.80,151.57 C149.80,149.10 151.94,147.77 154.56,147.77 C157.17,147.77 159.31,149.10 159.31,151.57 L157.41,218.40 Z" fill="url(#lg15)"/><path d="M160.21,218.40 L159.45,158.76 C159.45,156.14 161.72,154.72 164.49,154.72 C167.27,154.72 169.54,156.14 169.54,158.76 L170.31,218.40 Z" fill="url(#lg11)"/><path d="M173.11,218.40 L171.34,153.33 C171.34,149.18 174.93,146.94 179.32,146.94 C183.71,146.94 187.31,149.18 187.31,153.33 L189.07,218.40 Z" fill="url(#lg12)"/><path d="M191.87,218.40 L192.38,159.65 C192.38,154.95 196.45,152.41 201.43,152.41 C206.40,152.41 210.47,154.95 210.47,159.65 L209.96,218.40 Z" fill="url(#lg15)"/><path d="M212.76,218.40 L213.95,156.28 C213.95,152.52 217.20,150.50 221.18,150.50 C225.15,150.50 228.40,152.52 228.40,156.28 L227.21,218.40 Z" fill="url(#lg14)"/><path d="M230.01,218.40 L232.26,159.06 C232.26,156.17 234.76,154.62 237.81,154.62 C240.87,154.62 243.36,156.17 243.36,159.06 L241.11,218.40 Z" fill="url(#lg16)"/><path d="M243.91,218.40 L241.62,157.87 C241.62,152.96 245.87,150.32 251.06,150.32 C256.25,150.32 260.49,152.96 260.49,157.87 L262.78,218.40 Z" fill="url(#lg17)"/><path d="M265.58,218.40 L265.52,162.91 C265.52,159.30 268.64,157.36 272.46,157.36 C276.28,157.36 279.41,159.30 279.41,162.91 L279.47,218.40 Z" fill="url(#lg13)"/><path d="M282.27,218.40 L282.71,159.15 C282.71,157.12 284.47,156.02 286.63,156.02 C288.78,156.02 290.54,157.12 290.54,159.15 L290.10,218.40 Z" fill="url(#lg18)"/><path d="M292.90,218.40 L293.47,159.19 C293.47,153.68 298.24,150.71 304.07,150.71 C309.90,150.71 314.68,153.68 314.68,159.19 L314.11,218.40 Z" fill="url(#lg18)"/><path d="M316.91,218.40 L319.58,159.43 C319.58,155.15 323.28,152.84 327.82,152.84 C332.35,152.84 336.06,155.15 336.06,159.43 L333.39,218.40 Z" fill="url(#lg14)"/><path d="M336.19,218.40 L337.40,161.88 C337.40,158.03 340.72,155.96 344.79,155.96 C348.86,155.96 352.18,158.03 352.18,161.88 L350.97,218.40 Z" fill="url(#lg12)"/><path d="M353.77,218.40 L352.48,167.92 C352.48,163.35 356.43,160.90 361.26,160.90 C366.09,160.90 370.03,163.35 370.03,167.92 L371.33,218.40 Z" fill="url(#lg14)"/><path d="M374.13,218.40 L373.90,161.38 C373.90,157.90 376.91,156.03 380.58,156.03 C384.26,156.03 387.27,157.90 387.27,161.38 L387.50,218.40 Z" fill="url(#lg12)"/><path d="M390.30,218.40 L391.91,151.71 C391.91,149.14 394.13,147.76 396.85,147.76 C399.57,147.76 401.80,149.14 401.80,151.71 L400.19,218.40 Z" fill="url(#lg12)"/></g></g><g mask="url(#mk22)"><g filter="url(#df21)"><g opacity="0.750"><rect x="37.70" y="148.00" width="360.60" height="74.40" fill="#000" filter="url(#nf24)"/></g><g opacity="0.420"><rect x="37.70" y="150.00" width="360.60" height="72.40" fill="#000" filter="url(#nf25)"/></g></g></g><rect x="47.70" y="136.00" width="340.60" height="76.40" fill="url(#lg26)"/></g>
<g clip-path="url(#cp29)"><rect x="497.00" y="20.00" width="137.50" height="77.00" fill="#fcfbfa"/><g filter="url(#bf28)"><ellipse cx="505.00" cy="42.00" rx="7.00" ry="12.00" fill="#d2d2d2" fill-opacity="1.000"/><ellipse cx="518.00" cy="81.00" rx="10.00" ry="8.00" fill="#cecece" fill-opacity="1.000"/><ellipse cx="622.00" cy="33.00" rx="11.00" ry="9.00" fill="#d8d8d8" fill-opacity="1.000"/><ellipse cx="611.00" cy="68.00" rx="14.00" ry="12.00" fill="#e0e0e0" fill-opacity="1.000"/><ellipse cx="600.00" cy="62.00" rx="6.00" ry="5.00" fill="#e4e4e4" fill-opacity="1.000"/><ellipse cx="585.00" cy="94.00" rx="15.00" ry="4.00" fill="#e6e6e6" fill-opacity="1.000"/><ellipse cx="630.00" cy="78.00" rx="4.00" ry="9.00" fill="#e2e2e2" fill-opacity="1.000"/><path d="M556,24 L576,24 L573,52 L566,88 L543,88 L550,58 Z" fill="#cdcdcd"/><ellipse cx="566.00" cy="40.00" rx="6.00" ry="12.00" fill="#7e7e7e" fill-opacity="1.000" transform="rotate(15 566.00 40.00)"/><ellipse cx="560.00" cy="60.00" rx="7.00" ry="13.00" fill="#b0b0b0" fill-opacity="1.000" transform="rotate(20 560.00 60.00)"/><ellipse cx="553.00" cy="78.00" rx="7.00" ry="9.00" fill="#c8c8c8" fill-opacity="1.000" transform="rotate(20 553.00 78.00)"/><ellipse cx="533.00" cy="44.00" rx="18.00" ry="16.00" fill="#f8c6b0" fill-opacity="1.000"/><ellipse cx="537.00" cy="45.00" rx="11.00" ry="9.00" fill="#f2a88c" fill-opacity="1.000"/><ellipse cx="533.00" cy="61.00" rx="10.00" ry="6.00" fill="#f9d0bd" fill-opacity="1.000"/><ellipse cx="537.00" cy="73.00" rx="7.00" ry="14.00" fill="#f3ae92" fill-opacity="1.000" transform="rotate(-20 537.00 73.00)"/><ellipse cx="505.00" cy="67.00" rx="4.00" ry="10.00" fill="#f7c6b0" fill-opacity="1.000"/><ellipse cx="590.00" cy="42.00" rx="11.00" ry="16.00" fill="#f3aa8e" fill-opacity="1.000"/><ellipse cx="590.00" cy="42.00" rx="6.00" ry="7.00" fill="#d65e4b" fill-opacity="1.000"/><ellipse cx="583.00" cy="67.00" rx="6.00" ry="16.00" fill="#f5b9a0" fill-opacity="1.000" transform="rotate(8 583.00 67.00)"/><ellipse cx="582.00" cy="84.00" rx="5.00" ry="5.00" fill="#f8cbb8" fill-opacity="1.000"/><ellipse cx="613.00" cy="53.00" rx="9.00" ry="3.50" fill="#f8cfbb" fill-opacity="1.000" transform="rotate(25 613.00 53.00)"/><ellipse cx="598.00" cy="80.00" rx="6.00" ry="4.00" fill="#f8d2c2" fill-opacity="1.000"/><ellipse cx="628.00" cy="62.00" rx="3.00" ry="10.00" fill="#f9d6c6" fill-opacity="1.000"/><ellipse cx="620.00" cy="87.00" rx="9.00" ry="3.50" fill="#faddd0" fill-opacity="1.000"/></g></g>
<g clip-path="url(#cp37)"><rect x="497.00" y="136.00" width="137.50" height="76.40" fill="#f4ae8f"/><g filter="url(#bf30)"><ellipse cx="518.00" cy="158.00" rx="12.00" ry="9.00" fill="#f9d2bf" fill-opacity="1.000"/><ellipse cx="545.00" cy="152.00" rx="10.00" ry="5.00" fill="#f8cab5" fill-opacity="1.000"/><ellipse cx="611.00" cy="176.00" rx="11.00" ry="10.00" fill="#f9d0bc" fill-opacity="1.000"/><ellipse cx="538.00" cy="171.00" rx="9.00" ry="7.00" fill="#f1a284" fill-opacity="1.000"/><ellipse cx="612.00" cy="162.00" rx="7.00" ry="4.00" fill="#f09c7e" fill-opacity="1.000"/><ellipse cx="582.00" cy="186.00" rx="12.00" ry="8.00" fill="#f1a083" fill-opacity="1.000"/><ellipse cx="560.00" cy="196.00" rx="12.00" ry="5.00" fill="#f6bca3" fill-opacity="1.000"/><ellipse cx="596.00" cy="160.00" rx="8.00" ry="5.00" fill="#f8cbb6" fill-opacity="1.000"/><ellipse cx="520.00" cy="185.00" rx="10.00" ry="8.00" fill="#f6b89c" fill-opacity="1.000"/><ellipse cx="530.00" cy="156.00" rx="22.00" ry="5.00" fill="#f9d4c2" fill-opacity="1.000"/><ellipse cx="603.00" cy="157.00" rx="14.00" ry="5.00" fill="#f8cebb" fill-opacity="1.000"/></g><g filter="url(#bf31)"><path d="M495.0,150 L495.0,214 L506.0,214 L503.0,180 L500.0,150 Z" fill="#c03a3e"/><path d="M636.5,148 L636.5,214 L621.5,214 L625.5,185 L629.5,160 Z" fill="#b82e38"/><rect x="496.5" y="158" width="2.5" height="56" fill="#8a0c2c"/><rect x="632.0" y="155" width="3" height="59" fill="#8a0c2c"/></g><rect x="497.00" y="191.40" width="137.50" height="21" fill="url(#lg32)"/><g filter="url(#bf33)"><ellipse cx="533.00" cy="208.00" rx="12.00" ry="8.00" fill="#c84a46" fill-opacity="1.000"/><ellipse cx="612.00" cy="205.00" rx="16.00" ry="9.00" fill="#bc3a3e" fill-opacity="1.000"/><ellipse cx="628.00" cy="196.00" rx="6.00" ry="14.00" fill="#b02a36" fill-opacity="1.000"/></g><g filter="url(#bf35)"><path d="M498.00,136.50 C498.25,137.58 498.83,140.75 499.50,143.00 C500.17,145.25 501.25,148.42 502.00,150.00 C502.75,151.58 503.17,152.42 504.00,152.50 C504.83,152.58 505.50,151.22 507.00,150.50 C508.50,149.78 509.17,148.68 513.00,148.20 C516.83,147.72 524.83,147.63 530.00,147.60 C535.17,147.57 540.83,147.60 544.00,148.00 C547.17,148.40 547.50,148.67 549.00,150.00 C550.50,151.33 551.67,153.83 553.00,156.00 C554.33,158.17 555.50,161.17 557.00,163.00 C558.50,164.83 560.33,166.17 562.00,167.00 C563.67,167.83 565.17,168.00 567.00,168.00 C568.83,168.00 571.17,168.00 573.00,167.00 C574.83,166.00 576.33,164.00 578.00,162.00 C579.67,160.00 581.33,156.92 583.00,155.00 C584.67,153.08 585.50,151.40 588.00,150.50 C590.50,149.60 594.83,149.75 598.00,149.60 C601.17,149.45 604.67,149.28 607.00,149.60 C609.33,149.92 610.50,150.68 612.00,151.50 C613.50,152.32 614.50,154.17 616.00,154.50 C617.50,154.83 619.33,154.33 621.00,153.50 C622.67,152.67 624.50,151.17 626.00,149.50 C627.50,147.83 628.83,145.58 630.00,143.50 C631.17,141.42 632.50,138.08 633.00,137.00 L634.00,130.00 L497.00,130.00 Z" fill="url(#lg34)"/></g><g filter="url(#bf36)"><ellipse cx="567.00" cy="155.00" rx="12.00" ry="8.00" fill="#e0e0e0" fill-opacity="1.000"/><ellipse cx="568.00" cy="148.00" rx="11.00" ry="5.00" fill="#c8c8c8" fill-opacity="1.000"/><ellipse cx="624.00" cy="140.00" rx="5.00" ry="4.00" fill="#505050" fill-opacity="1.000"/><ellipse cx="506.00" cy="138.00" rx="5.00" ry="2.50" fill="#4a4a4a" fill-opacity="1.000"/></g></g>
<rect x="47.70" y="20.00" width="340.60" height="77.00" fill="none" stroke="#4c4c4c" stroke-width="1.15"/>
<rect x="47.70" y="136.00" width="340.60" height="76.40" fill="none" stroke="#4c4c4c" stroke-width="1.15"/>
<rect x="497.00" y="20.00" width="137.50" height="77.00" fill="none" stroke="#4c4c4c" stroke-width="1.15"/>
<rect x="497.00" y="136.00" width="137.50" height="76.40" fill="none" stroke="#4c4c4c" stroke-width="1.15"/>
<rect x="400.20" y="20.00" width="5.80" height="77.00" fill="url(#lg38)"/>
<rect x="400.20" y="20.00" width="5.80" height="77.00" fill="none" stroke="#404040" stroke-width="0.80"/>
<line x1="406.00" y1="20.00" x2="409.00" y2="20.00" stroke="#222" stroke-width="0.9"/>
<text x="411.60" y="24.30" text-anchor="start" font-size="12.60" font-family="Liberation Serif, serif" fill="#111" stroke="#fff" stroke-width="0.12">1.6</text>
<line x1="406.00" y1="39.25" x2="409.00" y2="39.25" stroke="#222" stroke-width="0.9"/>
<text x="411.60" y="43.55" text-anchor="start" font-size="12.60" font-family="Liberation Serif, serif" fill="#111" stroke="#fff" stroke-width="0.12">1.2</text>
<line x1="406.00" y1="58.50" x2="409.00" y2="58.50" stroke="#222" stroke-width="0.9"/>
<text x="411.60" y="62.80" text-anchor="start" font-size="12.60" font-family="Liberation Serif, serif" fill="#111" stroke="#fff" stroke-width="0.12">0.8</text>
<line x1="406.00" y1="77.75" x2="409.00" y2="77.75" stroke="#222" stroke-width="0.9"/>
<text x="411.60" y="82.05" text-anchor="start" font-size="12.60" font-family="Liberation Serif, serif" fill="#111" stroke="#fff" stroke-width="0.12">0.4</text>
<line x1="406.00" y1="97.00" x2="409.00" y2="97.00" stroke="#222" stroke-width="0.9"/>
<text x="411.60" y="101.30" text-anchor="start" font-size="12.60" font-family="Liberation Serif, serif" fill="#111" stroke="#fff" stroke-width="0.12">0.0</text>
<rect x="400.20" y="136.00" width="5.80" height="76.40" fill="url(#lg39)"/>
<rect x="400.20" y="136.00" width="5.80" height="76.40" fill="none" stroke="#404040" stroke-width="0.80"/>
<line x1="406.00" y1="136.00" x2="409.00" y2="136.00" stroke="#222" stroke-width="0.9"/>
<text x="411.60" y="140.30" text-anchor="start" font-size="12.60" font-family="Liberation Serif, serif" fill="#111" stroke="#fff" stroke-width="0.12">1.10</text>
<line x1="406.00" y1="155.10" x2="409.00" y2="155.10" stroke="#222" stroke-width="0.9"/>
<text x="411.60" y="159.40" text-anchor="start" font-size="12.60" font-family="Liberation Serif, serif" fill="#111" stroke="#fff" stroke-width="0.12">1.07</text>
<line x1="406.00" y1="174.20" x2="409.00" y2="174.20" stroke="#222" stroke-width="0.9"/>
<text x="411.60" y="178.50" text-anchor="start" font-size="12.60" font-family="Liberation Serif, serif" fill="#111" stroke="#fff" stroke-width="0.12">1.04</text>
<line x1="406.00" y1="193.30" x2="409.00" y2="193.30" stroke="#222" stroke-width="0.9"/>
<text x="411.60" y="197.60" text-anchor="start" font-size="12.60" font-family="Liberation Serif, serif" fill="#111" stroke="#fff" stroke-width="0.12">1.01</text>
<line x1="406.00" y1="212.40" x2="409.00" y2="212.40" stroke="#222" stroke-width="0.9"/>
<text x="411.60" y="216.70" text-anchor="start" font-size="12.60" font-family="Liberation Serif, serif" fill="#111" stroke="#fff" stroke-width="0.12">0.98</text>
<rect x="646.70" y="20.00" width="6.40" height="77.00" fill="url(#lg40)"/>
<rect x="646.70" y="20.00" width="6.40" height="77.00" fill="none" stroke="#404040" stroke-width="0.80"/>
<line x1="653.10" y1="20.00" x2="656.10" y2="20.00" stroke="#222" stroke-width="0.9"/>
<text x="658.70" y="24.30" text-anchor="start" font-size="12.60" font-family="Liberation Serif, serif" fill="#111" stroke="#fff" stroke-width="0.12">2.0</text>
<line x1="653.10" y1="39.25" x2="656.10" y2="39.25" stroke="#222" stroke-width="0.9"/>
<text x="658.70" y="43.55" text-anchor="start" font-size="12.60" font-family="Liberation Serif, serif" fill="#111" stroke="#fff" stroke-width="0.12">1.0</text>
<line x1="653.10" y1="58.50" x2="656.10" y2="58.50" stroke="#222" stroke-width="0.9"/>
<text x="658.70" y="62.80" text-anchor="start" font-size="12.60" font-family="Liberation Serif, serif" fill="#111" stroke="#fff" stroke-width="0.12">0.0</text>
<line x1="653.10" y1="77.75" x2="656.10" y2="77.75" stroke="#222" stroke-width="0.9"/>
<text x="658.70" y="82.05" text-anchor="start" font-size="12.60" font-family="Liberation Serif, serif" fill="#111" stroke="#fff" stroke-width="0.12" textLength="26.5" lengthAdjust="spacing">&#8722;1.0</text>
<line x1="653.10" y1="97.00" x2="656.10" y2="97.00" stroke="#222" stroke-width="0.9"/>
<text x="658.70" y="101.30" text-anchor="start" font-size="12.60" font-family="Liberation Serif, serif" fill="#111" stroke="#fff" stroke-width="0.12" textLength="26.5" lengthAdjust="spacing">&#8722;2.0</text>
<rect x="646.70" y="136.00" width="6.40" height="76.40" fill="url(#lg41)"/>
<rect x="646.70" y="136.00" width="6.40" height="76.40" fill="none" stroke="#404040" stroke-width="0.80"/>
<line x1="653.10" y1="136.00" x2="656.10" y2="136.00" stroke="#222" stroke-width="0.9"/>
<text x="658.70" y="140.30" text-anchor="start" font-size="12.60" font-family="Liberation Serif, serif" fill="#111" stroke="#fff" stroke-width="0.12">1.50</text>
<line x1="653.10" y1="155.10" x2="656.10" y2="155.10" stroke="#222" stroke-width="0.9"/>
<text x="658.70" y="159.40" text-anchor="start" font-size="12.60" font-family="Liberation Serif, serif" fill="#111" stroke="#fff" stroke-width="0.12">1.25</text>
<line x1="653.10" y1="174.20" x2="656.10" y2="174.20" stroke="#222" stroke-width="0.9"/>
<text x="658.70" y="178.50" text-anchor="start" font-size="12.60" font-family="Liberation Serif, serif" fill="#111" stroke="#fff" stroke-width="0.12">1.00</text>
<line x1="653.10" y1="193.30" x2="656.10" y2="193.30" stroke="#222" stroke-width="0.9"/>
<text x="658.70" y="197.60" text-anchor="start" font-size="12.60" font-family="Liberation Serif, serif" fill="#111" stroke="#fff" stroke-width="0.12">0.75</text>
<line x1="653.10" y1="212.40" x2="656.10" y2="212.40" stroke="#222" stroke-width="0.9"/>
<text x="658.70" y="216.70" text-anchor="start" font-size="12.60" font-family="Liberation Serif, serif" fill="#111" stroke="#fff" stroke-width="0.12">0.50</text>
<line x1="99.74" y1="97.00" x2="99.74" y2="100.00" stroke="#222" stroke-width="0.9"/>
<text x="99.74" y="112.30" text-anchor="middle" font-size="12.60" font-family="Liberation Serif, serif" fill="#111" stroke="#fff" stroke-width="0.12">2</text>
<line x1="151.78" y1="97.00" x2="151.78" y2="100.00" stroke="#222" stroke-width="0.9"/>
<text x="151.78" y="112.30" text-anchor="middle" font-size="12.60" font-family="Liberation Serif, serif" fill="#111" stroke="#fff" stroke-width="0.12">4</text>
<line x1="203.82" y1="97.00" x2="203.82" y2="100.00" stroke="#222" stroke-width="0.9"/>
<text x="203.82" y="112.30" text-anchor="middle" font-size="12.60" font-family="Liberation Serif, serif" fill="#111" stroke="#fff" stroke-width="0.12">6</text>
<line x1="255.86" y1="97.00" x2="255.86" y2="100.00" stroke="#222" stroke-width="0.9"/>
<text x="255.86" y="112.30" text-anchor="middle" font-size="12.60" font-family="Liberation Serif, serif" fill="#111" stroke="#fff" stroke-width="0.12">8</text>
<line x1="307.90" y1="97.00" x2="307.90" y2="100.00" stroke="#222" stroke-width="0.9"/>
<text x="307.90" y="112.30" text-anchor="middle" font-size="12.60" font-family="Liberation Serif, serif" fill="#111" stroke="#fff" stroke-width="0.12">10</text>
<line x1="359.94" y1="97.00" x2="359.94" y2="100.00" stroke="#222" stroke-width="0.9"/>
<text x="359.94" y="112.30" text-anchor="middle" font-size="12.60" font-family="Liberation Serif, serif" fill="#111" stroke="#fff" stroke-width="0.12">12</text>
<text x="46.00" y="107.90" text-anchor="middle" font-size="12.60" font-family="Liberation Serif, serif" fill="#111" stroke="#fff" stroke-width="0.12">0</text>
<line x1="44.70" y1="71.50" x2="47.70" y2="71.50" stroke="#222" stroke-width="0.9"/>
<text x="42.70" y="75.80" text-anchor="end" font-size="12.60" font-family="Liberation Serif, serif" fill="#111" stroke="#fff" stroke-width="0.12">0.25</text>
<line x1="44.70" y1="46.00" x2="47.70" y2="46.00" stroke="#222" stroke-width="0.9"/>
<text x="42.70" y="50.30" text-anchor="end" font-size="12.60" font-family="Liberation Serif, serif" fill="#111" stroke="#fff" stroke-width="0.12">0.50</text>
<line x1="548.40" y1="97.00" x2="548.40" y2="100.00" stroke="#222" stroke-width="0.9"/>
<text x="548.40" y="112.30" text-anchor="middle" font-size="12.60" font-family="Liberation Serif, serif" fill="#111" stroke="#fff" stroke-width="0.12">0.5</text>
<line x1="599.80" y1="97.00" x2="599.80" y2="100.00" stroke="#222" stroke-width="0.9"/>
<text x="599.80" y="112.30" text-anchor="middle" font-size="12.60" font-family="Liberation Serif, serif" fill="#111" stroke="#fff" stroke-width="0.12">1.0</text>
<text x="488.80" y="107.90" text-anchor="middle" font-size="12.60" font-family="Liberation Serif, serif" fill="#111" stroke="#fff" stroke-width="0.12">0</text>
<line x1="494.00" y1="71.50" x2="497.00" y2="71.50" stroke="#222" stroke-width="0.9"/>
<text x="492.00" y="75.80" text-anchor="end" font-size="12.60" font-family="Liberation Serif, serif" fill="#111" stroke="#fff" stroke-width="0.12">0.25</text>
<line x1="494.00" y1="46.00" x2="497.00" y2="46.00" stroke="#222" stroke-width="0.9"/>
<text x="492.00" y="50.30" text-anchor="end" font-size="12.60" font-family="Liberation Serif, serif" fill="#111" stroke="#fff" stroke-width="0.12">0.50</text>
<text x="217.50" y="123.20" text-anchor="middle" font-size="13.60" font-family="Liberation Serif, serif" fill="#111" stroke="#fff" stroke-width="0.12" textLength="29.50" lengthAdjust="spacing"><tspan font-style="italic">x</tspan><tspan dx="0.5" dy="1.3" font-size="16.59">/</tspan><tspan font-style="italic" dx="0.3" dy="-1.3">D</tspan><tspan font-style="italic" font-size="9.52" dy="2.60">h</tspan></text>
<text x="565.75" y="123.20" text-anchor="middle" font-size="13.60" font-family="Liberation Serif, serif" fill="#111" stroke="#fff" stroke-width="0.12" textLength="29.50" lengthAdjust="spacing"><tspan font-style="italic">y</tspan><tspan dx="0.5" dy="1.3" font-size="16.59">/</tspan><tspan font-style="italic" dx="0.3" dy="-1.3">D</tspan><tspan font-style="italic" font-size="9.52" dy="2.60">h</tspan></text>
<text transform="translate(11.90,76.80) rotate(-90)" text-anchor="start" font-size="13.60" font-family="Liberation Serif, serif" fill="#111" stroke="#fff" stroke-width="0.12" textLength="29.60" lengthAdjust="spacing"><tspan font-style="italic">z</tspan><tspan dx="0.5" dy="1.3" font-size="16.59">/</tspan><tspan font-style="italic" dx="0.3" dy="-1.3">D</tspan><tspan font-style="italic" font-size="9.52" dy="2.60">h</tspan></text>
<text transform="translate(461.40,76.80) rotate(-90)" text-anchor="start" font-size="13.60" font-family="Liberation Serif, serif" fill="#111" stroke="#fff" stroke-width="0.12" textLength="29.60" lengthAdjust="spacing"><tspan font-style="italic">z</tspan><tspan dx="0.5" dy="1.3" font-size="16.59">/</tspan><tspan font-style="italic" dx="0.3" dy="-1.3">D</tspan><tspan font-style="italic" font-size="9.52" dy="2.60">h</tspan></text>
<line x1="99.74" y1="212.40" x2="99.74" y2="215.40" stroke="#222" stroke-width="0.9"/>
<text x="99.74" y="227.70" text-anchor="middle" font-size="12.60" font-family="Liberation Serif, serif" fill="#111" stroke="#fff" stroke-width="0.12">2</text>
<line x1="151.78" y1="212.40" x2="151.78" y2="215.40" stroke="#222" stroke-width="0.9"/>
<text x="151.78" y="227.70" text-anchor="middle" font-size="12.60" font-family="Liberation Serif, serif" fill="#111" stroke="#fff" stroke-width="0.12">4</text>
<line x1="203.82" y1="212.40" x2="203.82" y2="215.40" stroke="#222" stroke-width="0.9"/>
<text x="203.82" y="227.70" text-anchor="middle" font-size="12.60" font-family="Liberation Serif, serif" fill="#111" stroke="#fff" stroke-width="0.12">6</text>
<line x1="255.86" y1="212.40" x2="255.86" y2="215.40" stroke="#222" stroke-width="0.9"/>
<text x="255.86" y="227.70" text-anchor="middle" font-size="12.60" font-family="Liberation Serif, serif" fill="#111" stroke="#fff" stroke-width="0.12">8</text>
<line x1="307.90" y1="212.40" x2="307.90" y2="215.40" stroke="#222" stroke-width="0.9"/>
<text x="307.90" y="227.70" text-anchor="middle" font-size="12.60" font-family="Liberation Serif, serif" fill="#111" stroke="#fff" stroke-width="0.12">10</text>
<line x1="359.94" y1="212.40" x2="359.94" y2="215.40" stroke="#222" stroke-width="0.9"/>
<text x="359.94" y="227.70" text-anchor="middle" font-size="12.60" font-family="Liberation Serif, serif" fill="#111" stroke="#fff" stroke-width="0.12">12</text>
<text x="46.00" y="223.30" text-anchor="middle" font-size="12.60" font-family="Liberation Serif, serif" fill="#111" stroke="#fff" stroke-width="0.12">0</text>
<line x1="44.70" y1="186.90" x2="47.70" y2="186.90" stroke="#222" stroke-width="0.9"/>
<text x="42.70" y="191.20" text-anchor="end" font-size="12.60" font-family="Liberation Serif, serif" fill="#111" stroke="#fff" stroke-width="0.12">0.25</text>
<line x1="44.70" y1="161.40" x2="47.70" y2="161.40" stroke="#222" stroke-width="0.9"/>
<text x="42.70" y="165.70" text-anchor="end" font-size="12.60" font-family="Liberation Serif, serif" fill="#111" stroke="#fff" stroke-width="0.12">0.50</text>
<line x1="548.40" y1="212.40" x2="548.40" y2="215.40" stroke="#222" stroke-width="0.9"/>
<text x="548.40" y="227.70" text-anchor="middle" font-size="12.60" font-family="Liberation Serif, serif" fill="#111" stroke="#fff" stroke-width="0.12">0.5</text>
<line x1="599.80" y1="212.40" x2="599.80" y2="215.40" stroke="#222" stroke-width="0.9"/>
<text x="599.80" y="227.70" text-anchor="middle" font-size="12.60" font-family="Liberation Serif, serif" fill="#111" stroke="#fff" stroke-width="0.12">1.0</text>
<text x="488.80" y="223.30" text-anchor="middle" font-size="12.60" font-family="Liberation Serif, serif" fill="#111" stroke="#fff" stroke-width="0.12">0</text>
<line x1="494.00" y1="186.90" x2="497.00" y2="186.90" stroke="#222" stroke-width="0.9"/>
<text x="492.00" y="191.20" text-anchor="end" font-size="12.60" font-family="Liberation Serif, serif" fill="#111" stroke="#fff" stroke-width="0.12">0.25</text>
<line x1="494.00" y1="161.40" x2="497.00" y2="161.40" stroke="#222" stroke-width="0.9"/>
<text x="492.00" y="165.70" text-anchor="end" font-size="12.60" font-family="Liberation Serif, serif" fill="#111" stroke="#fff" stroke-width="0.12">0.50</text>
<text x="217.50" y="238.60" text-anchor="middle" font-size="13.60" font-family="Liberation Serif, serif" fill="#111" stroke="#fff" stroke-width="0.12" textLength="29.50" lengthAdjust="spacing"><tspan font-style="italic">x</tspan><tspan dx="0.5" dy="1.3" font-size="16.59">/</tspan><tspan font-style="italic" dx="0.3" dy="-1.3">D</tspan><tspan font-style="italic" font-size="9.52" dy="2.60">h</tspan></text>
<text x="565.75" y="238.60" text-anchor="middle" font-size="13.60" font-family="Liberation Serif, serif" fill="#111" stroke="#fff" stroke-width="0.12" textLength="29.50" lengthAdjust="spacing"><tspan font-style="italic">y</tspan><tspan dx="0.5" dy="1.3" font-size="16.59">/</tspan><tspan font-style="italic" dx="0.3" dy="-1.3">D</tspan><tspan font-style="italic" font-size="9.52" dy="2.60">h</tspan></text>
<text transform="translate(11.90,192.50) rotate(-90)" text-anchor="start" font-size="13.60" font-family="Liberation Serif, serif" fill="#111" stroke="#fff" stroke-width="0.12" textLength="29.60" lengthAdjust="spacing"><tspan font-style="italic">z</tspan><tspan dx="0.5" dy="1.3" font-size="16.59">/</tspan><tspan font-style="italic" dx="0.3" dy="-1.3">D</tspan><tspan font-style="italic" font-size="9.52" dy="2.60">h</tspan></text>
<text transform="translate(461.40,192.50) rotate(-90)" text-anchor="start" font-size="13.60" font-family="Liberation Serif, serif" fill="#111" stroke="#fff" stroke-width="0.12" textLength="29.60" lengthAdjust="spacing"><tspan font-style="italic">z</tspan><tspan dx="0.5" dy="1.3" font-size="16.59">/</tspan><tspan font-style="italic" dx="0.3" dy="-1.3">D</tspan><tspan font-style="italic" font-size="9.52" dy="2.60">h</tspan></text>
<text x="391.00" y="11.00" text-anchor="start" font-size="13.60" font-family="Liberation Serif, serif" fill="#111" stroke="#fff" stroke-width="0.12" textLength="27.60" lengthAdjust="spacing"><tspan font-style="italic">u</tspan><tspan dx="0.5" dy="1.3" font-size="16.59">/</tspan><tspan font-style="italic" dx="0.3" dy="-1.3">U</tspan><tspan font-style="italic" font-size="9.52" dy="2.60">b</tspan></text>
<text x="389.00" y="126.70" text-anchor="start" font-size="13.60" font-family="Liberation Serif, serif" fill="#111" stroke="#fff" stroke-width="0.12" textLength="28.20" lengthAdjust="spacing"><tspan font-style="italic">T</tspan><tspan dx="0.5" dy="1.3" font-size="16.59">/</tspan><tspan font-style="italic" dx="0.3" dy="-1.3">T</tspan><tspan font-style="italic" font-size="9.52" dy="2.60">c</tspan></text>
<text x="638.10" y="11.10" text-anchor="start" font-size="13.60" font-family="Liberation Serif, serif" fill="#111" stroke="#fff" stroke-width="0.12" textLength="27.40" lengthAdjust="spacing"><tspan font-style="italic">v</tspan><tspan dx="0.5" dy="1.3" font-size="16.59">/</tspan><tspan font-style="italic" dx="0.3" dy="-1.3">U</tspan><tspan font-style="italic" font-size="9.52" dy="2.60">b</tspan></text>
<text x="637.90" y="124.40" text-anchor="start" font-size="13.60" font-family="Liberation Serif, serif" fill="#111" stroke="#fff" stroke-width="0.12" textLength="25.20" lengthAdjust="spacing"><tspan font-style="italic">&#961;</tspan><tspan dx="0.5" dy="1.3" font-size="16.59">/</tspan><tspan font-style="italic" dx="0.3" dy="-1.3">&#961;</tspan><tspan font-style="italic" font-size="9.52" dy="2.60">c</tspan></text>
<text x="632.90" y="17.70" text-anchor="end" font-size="14.20" font-family="Liberation Serif, serif" fill="#111" stroke="#fff" stroke-width="0.12"><tspan font-size="14">&#215;</tspan><tspan dx="0.6">10</tspan><tspan font-size="10" dy="-6" dx="0.3">&#8722;1</tspan></text>
<text x="343.20" y="271.50" text-anchor="middle" font-size="12" font-weight="bold" font-family="Liberation Sans, sans-serif">(a)</text>
<g clip-path="url(#cp52)"><rect x="47.70" y="303.00" width="337.70" height="76.00" fill="url(#lg42)"/><g opacity="0.600"><rect x="47.70" y="303.00" width="337.70" height="76.00" fill="#000" filter="url(#nf43)"/></g><g opacity="0.600"><rect x="47.70" y="303.00" width="337.70" height="76.00" fill="#000" filter="url(#nf44)"/></g><g mask="url(#mk45)" opacity="0.850"><rect x="47.70" y="303.00" width="337.70" height="76.00" fill="#000" filter="url(#nf47)"/></g><g mask="url(#mk48)" opacity="0.600"><rect x="47.70" y="303.00" width="337.70" height="76.00" fill="#000" filter="url(#nf50)"/></g><g filter="url(#bf51)" opacity="0.55"><ellipse cx="130" cy="371" rx="75" ry="5" fill="#fff"/><ellipse cx="95" cy="311" rx="45" ry="4" fill="#fff"/></g></g>
<path d="M45.97,303.00 L61.91,303.63 L68.03,304.27 L72.41,304.90 L75.83,305.53 L78.61,306.17 L80.92,306.80 L82.86,307.43 L84.49,308.07 L85.86,308.70 L87.02,309.33 L87.99,309.97 L88.79,310.60 L89.45,311.23 L89.99,311.87 L90.42,312.50 L90.76,313.13 L91.01,313.77 L91.20,314.40 L91.34,315.03 L91.43,315.67 L91.50,316.30 L91.55,316.93 L91.60,317.57 L91.65,318.20 L91.69,318.83 L91.74,319.47 L91.78,320.10 L91.82,320.73 L91.86,321.37 L91.90,322.00 L91.94,322.63 L91.98,323.27 L92.01,323.90 L92.05,324.53 L92.08,325.17 L92.11,325.80 L92.14,326.43 L92.17,327.07 L92.20,327.70 L92.23,328.33 L92.25,328.97 L92.28,329.60 L92.30,330.23 L92.32,330.87 L92.34,331.50 L92.36,332.13 L92.38,332.77 L92.39,333.40 L92.41,334.03 L92.42,334.67 L92.43,335.30 L92.44,335.93 L92.45,336.57 L92.46,337.20 L92.47,337.83 L92.48,338.47 L92.48,339.10 L92.48,339.73 L92.48,340.37 L92.49,341.00 L92.48,341.63 L92.48,342.27 L92.48,342.90 L92.48,343.53 L92.47,344.17 L92.46,344.80 L92.45,345.43 L92.44,346.07 L92.43,346.70 L92.42,347.33 L92.41,347.97 L92.39,348.60 L92.38,349.23 L92.36,349.87 L92.34,350.50 L92.32,351.13 L92.30,351.77 L92.28,352.40 L92.25,353.03 L92.23,353.67 L92.20,354.30 L92.17,354.93 L92.14,355.57 L92.11,356.20 L92.08,356.83 L92.05,357.47 L92.01,358.10 L91.98,358.73 L91.94,359.37 L91.90,360.00 L91.86,360.63 L91.82,361.27 L91.78,361.90 L91.74,362.53 L91.69,363.17 L91.65,363.80 L91.60,364.43 L91.55,365.07 L91.50,365.70 L91.43,366.33 L91.34,366.97 L91.20,367.60 L91.01,368.23 L90.76,368.87 L90.42,369.50 L89.99,370.13 L89.45,370.77 L88.79,371.40 L87.99,372.03 L87.02,372.67 L85.86,373.30 L84.49,373.93 L82.86,374.57 L80.92,375.20 L78.61,375.83 L75.83,376.47 L72.41,377.10 L68.03,377.73 L61.91,378.37 L45.97,379.00" fill="none" stroke="#ff00ff" stroke-width="1.6" clip-path="url(#cp53)"/>
<line x1="47.70" y1="341.00" x2="139.20" y2="341.00" stroke="#00e8e8" stroke-width="1.1" opacity="0.85"/>
<path d="M144.20,341.00 L137.70,338.20 L139.00,341.00 L137.70,343.80 Z" fill="#00ffff"/>
<circle cx="65.40" cy="341.00" r="1.1" fill="#00ffff"/>
<text x="65.40" y="352.80" text-anchor="middle" font-size="12.2" font-family="Liberation Serif, serif" fill="#18f0ea" fill-opacity="0.78">0.5</text>
<circle cx="84.83" cy="341.00" r="1.1" fill="#00ffff"/>
<text x="84.83" y="352.80" text-anchor="middle" font-size="12.2" font-family="Liberation Serif, serif" fill="#18f0ea" fill-opacity="0.78">1.0</text>
<circle cx="104.26" cy="341.00" r="1.1" fill="#00ffff"/>
<text x="104.26" y="352.80" text-anchor="middle" font-size="12.2" font-family="Liberation Serif, serif" fill="#18f0ea" fill-opacity="0.78">1.5</text>
<circle cx="123.69" cy="341.00" r="1.1" fill="#00ffff"/>
<text x="123.69" y="352.80" text-anchor="middle" font-size="12.2" font-family="Liberation Serif, serif" fill="#18f0ea" fill-opacity="0.78">2.0</text>
<text x="149.20" y="345.80" font-size="14.4" textLength="29" lengthAdjust="spacing" font-family="Liberation Serif, serif" fill="#18f0ea" fill-opacity="0.82"><tspan font-style="italic">&#363;</tspan><tspan dx="0.6" dy="1.3" font-size="17.5">/</tspan><tspan font-style="italic" dx="0.4" dy="-1.3">U</tspan><tspan font-style="italic" font-size="10.2" dy="2.6">b</tspan></text>
<g clip-path="url(#cp72)"><g filter="url(#df54)"><rect x="27.70" y="398.00" width="377.70" height="116.00" fill="url(#lg55)"/></g><g filter="url(#bf66)"><g filter="url(#df67)"><path d="M39.30,500.00 L38.46,431.88 C38.46,429.10 41.02,428.25 42.69,428.25 C44.35,428.25 46.91,429.10 46.91,431.88 L47.75,500.00 Z" fill="#fdfbfa"/><path d="M46.95,500.00 L45.39,431.74 C45.39,428.52 48.34,427.43 50.48,427.43 C52.61,427.43 55.56,428.52 55.56,431.74 L57.12,500.00 Z" fill="#fdfbfa"/><path d="M56.32,500.00 L55.33,427.11 C55.33,425.24 57.11,424.87 57.82,424.87 C58.53,424.87 60.31,425.24 60.31,427.11 L61.31,500.00 Z" fill="#fdfbfa"/><path d="M60.51,500.00 L62.29,427.90 C62.29,425.17 64.82,424.34 66.44,424.34 C68.07,424.34 70.60,425.17 70.60,427.90 L68.82,500.00 Z" fill="#fdfbfa"/><path d="M68.02,500.00 L69.27,433.07 C69.27,430.52 71.64,429.79 73.07,429.79 C74.51,429.79 76.88,430.52 76.88,433.07 L75.63,500.00 Z" fill="#fdfbfa"/><path d="M74.83,500.00 L75.06,427.62 C75.06,424.20 78.18,423.01 80.53,423.01 C82.87,423.01 85.99,424.20 85.99,427.62 L85.75,500.00 Z" fill="#fdfbfa"/><path d="M84.95,500.00 L86.48,428.31 C86.48,424.75 89.73,423.48 92.23,423.48 C94.73,423.48 97.97,424.75 97.97,428.31 L96.44,500.00 Z" fill="#fdfbfa"/><path d="M95.64,500.00 L97.40,428.22 C97.40,425.24 100.15,424.27 102.04,424.27 C103.93,424.27 106.67,425.24 106.67,428.22 L104.91,500.00 Z" fill="#fdfbfa"/><path d="M104.11,500.00 L105.36,433.26 C105.36,430.57 107.85,429.77 109.42,429.77 C110.99,429.77 113.48,430.57 113.48,433.26 L112.23,500.00 Z" fill="#fdfbfa"/><path d="M111.43,500.00 L110.92,433.60 C110.92,430.29 113.94,429.16 116.17,429.16 C118.39,429.16 121.41,430.29 121.41,433.60 L121.92,500.00 Z" fill="#fdfbfa"/><path d="M121.12,500.00 L122.96,430.12 C122.96,428.20 124.78,427.82 125.54,427.82 C126.30,427.82 128.12,428.20 128.12,430.12 L126.29,500.00 Z" fill="#fdfbfa"/><path d="M125.49,500.00 L124.44,431.20 C124.44,428.70 126.77,427.99 128.15,427.99 C129.54,427.99 131.87,428.70 131.87,431.20 L132.91,500.00 Z" fill="#fdfbfa"/><path d="M132.11,500.00 L131.55,433.18 C131.55,430.34 134.17,429.46 135.90,429.46 C137.63,429.46 140.25,430.34 140.25,433.18 L140.81,500.00 Z" fill="#fdfbfa"/><path d="M140.01,500.00 L140.42,431.00 C140.42,428.69 142.58,428.09 143.76,428.09 C144.93,428.09 147.09,428.69 147.09,431.00 L146.68,500.00 Z" fill="#fdfbfa"/><path d="M145.88,500.00 L146.51,429.94 C146.51,427.11 149.13,426.23 150.86,426.23 C152.59,426.23 155.20,427.11 155.20,429.94 L154.57,500.00 Z" fill="#fdfbfa"/><path d="M153.77,500.00 L155.40,429.08 C155.40,425.59 158.59,424.35 161.01,424.35 C163.44,424.35 166.62,425.59 166.62,429.08 L164.98,500.00 Z" fill="#fdfbfa"/><path d="M164.18,500.00 L165.20,427.76 C165.20,424.88 167.85,423.98 169.62,423.98 C171.39,423.98 174.04,424.88 174.04,427.76 L173.03,500.00 Z" fill="#fdfbfa"/><path d="M172.23,500.00 L172.76,428.67 C172.76,426.21 175.05,425.54 176.38,425.54 C177.71,425.54 180.00,426.21 180.00,428.67 L179.47,500.00 Z" fill="#fdfbfa"/><path d="M178.67,500.00 L180.61,428.48 C180.61,425.33 183.50,424.28 185.57,424.28 C187.63,424.28 190.52,425.33 190.52,428.48 L188.57,500.00 Z" fill="#fdfbfa"/><path d="M187.77,500.00 L188.51,426.67 C188.51,423.19 191.69,421.97 194.10,421.97 C196.51,421.97 199.68,423.19 199.68,426.67 L198.94,500.00 Z" fill="#fdfbfa"/><path d="M198.14,500.00 L198.50,430.94 C198.50,428.38 200.88,427.65 202.31,427.65 C203.75,427.65 206.12,428.38 206.12,430.94 L205.76,500.00 Z" fill="#fdfbfa"/><path d="M204.96,500.00 L203.56,426.62 C203.56,424.08 205.92,423.37 207.34,423.37 C208.75,423.37 211.11,424.08 211.11,426.62 L212.50,500.00 Z" fill="#fdfbfa"/><path d="M211.70,500.00 L211.85,425.97 C211.85,423.94 213.76,423.50 214.64,423.50 C215.51,423.50 217.42,423.94 217.42,425.97 L217.28,500.00 Z" fill="#fdfbfa"/><path d="M216.48,500.00 L214.67,433.58 C214.67,430.29 217.68,429.16 219.89,429.16 C222.10,429.16 225.11,430.29 225.11,433.58 L226.91,500.00 Z" fill="#fdfbfa"/><path d="M226.11,500.00 L227.47,427.30 C227.47,423.79 230.66,422.54 233.11,422.54 C235.55,422.54 238.75,423.79 238.75,427.30 L237.39,500.00 Z" fill="#fdfbfa"/><path d="M236.59,500.00 L234.93,429.03 C234.93,426.01 237.71,425.03 239.63,425.03 C241.56,425.03 244.33,426.01 244.33,429.03 L245.99,500.00 Z" fill="#fdfbfa"/><path d="M245.19,500.00 L244.25,427.68 C244.25,424.69 247.00,423.73 248.88,423.73 C250.77,423.73 253.51,424.69 253.51,427.68 L254.45,500.00 Z" fill="#fdfbfa"/><path d="M253.65,500.00 L253.60,426.78 C253.60,424.66 255.59,424.16 256.57,424.16 C257.54,424.16 259.54,424.66 259.54,426.78 L259.59,500.00 Z" fill="#fdfbfa"/><path d="M258.79,500.00 L258.86,428.95 C258.86,426.41 261.21,425.69 262.63,425.69 C264.05,425.69 266.41,426.41 266.41,428.95 L266.34,500.00 Z" fill="#fdfbfa"/><path d="M265.54,500.00 L264.46,432.95 C264.46,430.31 266.90,429.54 268.42,429.54 C269.93,429.54 272.37,430.31 272.37,432.95 L273.46,500.00 Z" fill="#fdfbfa"/><path d="M272.66,500.00 L270.77,426.36 C270.77,423.96 273.01,423.31 274.29,423.31 C275.56,423.31 277.80,423.96 277.80,426.36 L279.69,500.00 Z" fill="#fdfbfa"/><path d="M278.89,500.00 L280.46,430.59 C280.46,427.41 283.37,426.34 285.47,426.34 C287.56,426.34 290.47,427.41 290.47,430.59 L288.90,500.00 Z" fill="#fdfbfa"/><path d="M288.10,500.00 L288.32,429.51 C288.32,427.09 290.58,426.43 291.87,426.43 C293.16,426.43 295.42,427.09 295.42,429.51 L295.20,500.00 Z" fill="#fdfbfa"/><path d="M294.40,500.00 L295.42,428.62 C295.42,425.68 298.12,424.74 299.96,424.74 C301.80,424.74 304.51,425.68 304.51,428.62 L303.49,500.00 Z" fill="#fdfbfa"/><path d="M302.69,500.00 L302.76,427.65 C302.76,425.28 304.98,424.64 306.23,424.64 C307.47,424.64 309.69,425.28 309.69,427.65 L309.61,500.00 Z" fill="#fdfbfa"/><path d="M308.81,500.00 L309.63,426.96 C309.63,424.19 312.19,423.34 313.86,423.34 C315.53,423.34 318.09,424.19 318.09,426.96 L317.28,500.00 Z" fill="#fdfbfa"/><path d="M316.48,500.00 L316.49,429.70 C316.49,426.48 319.44,425.40 321.57,425.40 C323.70,425.40 326.65,426.48 326.65,429.70 L326.63,500.00 Z" fill="#fdfbfa"/><path d="M325.83,500.00 L324.88,429.26 C324.88,426.46 327.47,425.60 329.16,425.60 C330.85,425.60 333.44,426.46 333.44,429.26 L334.38,500.00 Z" fill="#fdfbfa"/><path d="M333.58,500.00 L334.59,433.34 C334.59,429.71 337.89,428.41 340.45,428.41 C343.01,428.41 346.31,429.71 346.31,433.34 L345.30,500.00 Z" fill="#fdfbfa"/><path d="M344.50,500.00 L345.30,426.69 C345.30,424.48 347.37,423.94 348.44,423.94 C349.50,423.94 351.58,424.48 351.58,426.69 L350.78,500.00 Z" fill="#fdfbfa"/><path d="M349.98,500.00 L350.43,427.81 C350.43,425.94 352.21,425.57 352.92,425.57 C353.64,425.57 355.42,425.94 355.42,427.81 L354.97,500.00 Z" fill="#fdfbfa"/><path d="M354.17,500.00 L355.52,427.53 C355.52,423.90 358.82,422.59 361.40,422.59 C363.97,422.59 367.27,423.90 367.27,427.53 L365.92,500.00 Z" fill="#fdfbfa"/><path d="M365.12,500.00 L364.01,428.33 C364.01,426.45 365.79,426.09 366.50,426.09 C367.21,426.09 368.99,426.45 368.99,428.33 L370.11,500.00 Z" fill="#fdfbfa"/><path d="M369.31,500.00 L369.02,432.58 C369.02,429.58 371.78,428.60 373.69,428.60 C375.60,428.60 378.36,429.58 378.36,432.58 L378.65,500.00 Z" fill="#fdfbfa"/><path d="M377.85,500.00 L378.01,428.44 C378.01,426.51 379.84,426.11 380.61,426.11 C381.38,426.11 383.21,426.51 383.21,428.44 L383.06,500.00 Z" fill="#fdfbfa"/><path d="M382.26,500.00 L383.54,427.49 C383.54,425.18 385.70,424.58 386.88,424.58 C388.06,424.58 390.22,425.18 390.22,427.49 L388.95,500.00 Z" fill="#fdfbfa"/><path d="M388.15,500.00 L389.15,429.94 C389.15,426.34 392.42,425.04 394.96,425.04 C397.50,425.04 400.77,426.34 400.77,429.94 L399.77,500.00 Z" fill="#fdfbfa"/><path d="M40.50,500.00 L39.66,431.88 C39.66,430.30 41.02,429.45 42.69,429.45 C44.35,429.45 45.71,430.30 45.71,431.88 L46.55,500.00 Z" fill="url(#lg56)"/><path d="M48.15,500.00 L46.59,431.74 C46.59,429.72 48.34,428.63 50.48,428.63 C52.61,428.63 54.36,429.72 54.36,431.74 L55.92,500.00 Z" fill="url(#lg57)"/><path d="M57.52,500.00 L56.53,427.11 C56.53,426.44 57.11,426.07 57.82,426.07 C58.53,426.07 59.11,426.44 59.11,427.11 L60.11,500.00 Z" fill="url(#lg58)"/><path d="M61.71,500.00 L63.49,427.90 C63.49,426.37 64.82,425.54 66.44,425.54 C68.07,425.54 69.40,426.37 69.40,427.90 L67.62,500.00 Z" fill="url(#lg59)"/><path d="M69.22,500.00 L70.47,433.07 C70.47,431.72 71.64,430.99 73.07,430.99 C74.51,430.99 75.68,431.72 75.68,433.07 L74.43,500.00 Z" fill="url(#lg60)"/><path d="M76.03,500.00 L76.26,427.62 C76.26,425.40 78.18,424.21 80.53,424.21 C82.87,424.21 84.79,425.40 84.79,427.62 L84.55,500.00 Z" fill="url(#lg57)"/><path d="M86.15,500.00 L87.68,428.31 C87.68,425.95 89.73,424.68 92.23,424.68 C94.73,424.68 96.77,425.95 96.77,428.31 L95.24,500.00 Z" fill="url(#lg61)"/><path d="M96.84,500.00 L98.60,428.22 C98.60,426.44 100.15,425.47 102.04,425.47 C103.93,425.47 105.47,426.44 105.47,428.22 L103.71,500.00 Z" fill="url(#lg60)"/><path d="M105.31,500.00 L106.56,433.26 C106.56,431.77 107.85,430.97 109.42,430.97 C110.99,430.97 112.28,431.77 112.28,433.26 L111.03,500.00 Z" fill="url(#lg60)"/><path d="M112.63,500.00 L112.12,433.60 C112.12,431.49 113.94,430.36 116.17,430.36 C118.39,430.36 120.21,431.49 120.21,433.60 L120.72,500.00 Z" fill="url(#lg62)"/><path d="M122.32,500.00 L124.16,430.12 C124.16,429.40 124.78,429.02 125.54,429.02 C126.30,429.02 126.92,429.40 126.92,430.12 L125.09,500.00 Z" fill="url(#lg63)"/><path d="M126.69,500.00 L125.64,431.20 C125.64,429.90 126.77,429.19 128.15,429.19 C129.54,429.19 130.67,429.90 130.67,431.20 L131.71,500.00 Z" fill="url(#lg59)"/><path d="M133.31,500.00 L132.75,433.18 C132.75,431.54 134.17,430.66 135.90,430.66 C137.63,430.66 139.05,431.54 139.05,433.18 L139.61,500.00 Z" fill="url(#lg61)"/><path d="M141.21,500.00 L141.62,431.00 C141.62,429.89 142.58,429.29 143.76,429.29 C144.93,429.29 145.89,429.89 145.89,431.00 L145.48,500.00 Z" fill="url(#lg64)"/><path d="M147.08,500.00 L147.71,429.94 C147.71,428.31 149.13,427.43 150.86,427.43 C152.59,427.43 154.00,428.31 154.00,429.94 L153.37,500.00 Z" fill="url(#lg60)"/><path d="M154.97,500.00 L156.60,429.08 C156.60,426.79 158.59,425.55 161.01,425.55 C163.44,425.55 165.42,426.79 165.42,429.08 L163.78,500.00 Z" fill="url(#lg63)"/><path d="M165.38,500.00 L166.40,427.76 C166.40,426.08 167.85,425.18 169.62,425.18 C171.39,425.18 172.84,426.08 172.84,427.76 L171.83,500.00 Z" fill="url(#lg62)"/><path d="M173.43,500.00 L173.96,428.67 C173.96,427.41 175.05,426.74 176.38,426.74 C177.71,426.74 178.80,427.41 178.80,428.67 L178.27,500.00 Z" fill="url(#lg64)"/><path d="M179.87,500.00 L181.81,428.48 C181.81,426.53 183.50,425.48 185.57,425.48 C187.63,425.48 189.32,426.53 189.32,428.48 L187.37,500.00 Z" fill="url(#lg60)"/><path d="M188.97,500.00 L189.71,426.67 C189.71,424.39 191.69,423.17 194.10,423.17 C196.51,423.17 198.48,424.39 198.48,426.67 L197.74,500.00 Z" fill="url(#lg61)"/><path d="M199.34,500.00 L199.70,430.94 C199.70,429.58 200.88,428.85 202.31,428.85 C203.75,428.85 204.92,429.58 204.92,430.94 L204.56,500.00 Z" fill="url(#lg56)"/><path d="M206.16,500.00 L204.76,426.62 C204.76,425.28 205.92,424.57 207.34,424.57 C208.75,424.57 209.91,425.28 209.91,426.62 L211.30,500.00 Z" fill="url(#lg64)"/><path d="M212.90,500.00 L213.05,425.97 C213.05,425.14 213.76,424.70 214.64,424.70 C215.51,424.70 216.22,425.14 216.22,425.97 L216.08,500.00 Z" fill="url(#lg59)"/><path d="M217.68,500.00 L215.87,433.58 C215.87,431.49 217.68,430.36 219.89,430.36 C222.10,430.36 223.91,431.49 223.91,433.58 L225.71,500.00 Z" fill="url(#lg58)"/><path d="M227.31,500.00 L228.67,427.30 C228.67,424.99 230.66,423.74 233.11,423.74 C235.55,423.74 237.55,424.99 237.55,427.30 L236.19,500.00 Z" fill="url(#lg58)"/><path d="M237.79,500.00 L236.13,429.03 C236.13,427.21 237.71,426.23 239.63,426.23 C241.56,426.23 243.13,427.21 243.13,429.03 L244.79,500.00 Z" fill="url(#lg60)"/><path d="M246.39,500.00 L245.45,427.68 C245.45,425.89 247.00,424.93 248.88,424.93 C250.77,424.93 252.31,425.89 252.31,427.68 L253.25,500.00 Z" fill="url(#lg61)"/><path d="M254.85,500.00 L254.80,426.78 C254.80,425.86 255.59,425.36 256.57,425.36 C257.54,425.36 258.34,425.86 258.34,426.78 L258.39,500.00 Z" fill="url(#lg58)"/><path d="M259.99,500.00 L260.06,428.95 C260.06,427.61 261.21,426.89 262.63,426.89 C264.05,426.89 265.21,427.61 265.21,428.95 L265.14,500.00 Z" fill="url(#lg61)"/><path d="M266.74,500.00 L265.66,432.95 C265.66,431.51 266.90,430.74 268.42,430.74 C269.93,430.74 271.17,431.51 271.17,432.95 L272.26,500.00 Z" fill="url(#lg58)"/><path d="M273.86,500.00 L271.97,426.36 C271.97,425.16 273.01,424.51 274.29,424.51 C275.56,424.51 276.60,425.16 276.60,426.36 L278.49,500.00 Z" fill="url(#lg63)"/><path d="M280.09,500.00 L281.66,430.59 C281.66,428.61 283.37,427.54 285.47,427.54 C287.56,427.54 289.27,428.61 289.27,430.59 L287.70,500.00 Z" fill="url(#lg65)"/><path d="M289.30,500.00 L289.52,429.51 C289.52,428.29 290.58,427.63 291.87,427.63 C293.16,427.63 294.22,428.29 294.22,429.51 L294.00,500.00 Z" fill="url(#lg59)"/><path d="M295.60,500.00 L296.62,428.62 C296.62,426.88 298.12,425.94 299.96,425.94 C301.80,425.94 303.31,426.88 303.31,428.62 L302.29,500.00 Z" fill="url(#lg56)"/><path d="M303.89,500.00 L303.96,427.65 C303.96,426.48 304.98,425.84 306.23,425.84 C307.47,425.84 308.49,426.48 308.49,427.65 L308.41,500.00 Z" fill="url(#lg61)"/><path d="M310.01,500.00 L310.83,426.96 C310.83,425.39 312.19,424.54 313.86,424.54 C315.53,424.54 316.89,425.39 316.89,426.96 L316.08,500.00 Z" fill="url(#lg61)"/><path d="M317.68,500.00 L317.69,429.70 C317.69,427.68 319.44,426.60 321.57,426.60 C323.70,426.60 325.45,427.68 325.45,429.70 L325.43,500.00 Z" fill="url(#lg65)"/><path d="M327.03,500.00 L326.08,429.26 C326.08,427.66 327.47,426.80 329.16,426.80 C330.85,426.80 332.24,427.66 332.24,429.26 L333.18,500.00 Z" fill="url(#lg62)"/><path d="M334.78,500.00 L335.79,433.34 C335.79,430.91 337.89,429.61 340.45,429.61 C343.01,429.61 345.11,430.91 345.11,433.34 L344.10,500.00 Z" fill="url(#lg65)"/><path d="M345.70,500.00 L346.50,426.69 C346.50,425.68 347.37,425.14 348.44,425.14 C349.50,425.14 350.38,425.68 350.38,426.69 L349.58,500.00 Z" fill="url(#lg61)"/><path d="M351.18,500.00 L351.63,427.81 C351.63,427.14 352.21,426.77 352.92,426.77 C353.64,426.77 354.22,427.14 354.22,427.81 L353.77,500.00 Z" fill="url(#lg59)"/><path d="M355.37,500.00 L356.72,427.53 C356.72,425.10 358.82,423.79 361.40,423.79 C363.97,423.79 366.07,425.10 366.07,427.53 L364.72,500.00 Z" fill="url(#lg59)"/><path d="M366.32,500.00 L365.21,428.33 C365.21,427.65 365.79,427.29 366.50,427.29 C367.21,427.29 367.79,427.65 367.79,428.33 L368.91,500.00 Z" fill="url(#lg58)"/><path d="M370.51,500.00 L370.22,432.58 C370.22,430.78 371.78,429.80 373.69,429.80 C375.60,429.80 377.16,430.78 377.16,432.58 L377.45,500.00 Z" fill="url(#lg58)"/><path d="M379.05,500.00 L379.21,428.44 C379.21,427.71 379.84,427.31 380.61,427.31 C381.38,427.31 382.01,427.71 382.01,428.44 L381.86,500.00 Z" fill="url(#lg64)"/><path d="M383.46,500.00 L384.74,427.49 C384.74,426.38 385.70,425.78 386.88,425.78 C388.06,425.78 389.02,426.38 389.02,427.49 L387.75,500.00 Z" fill="url(#lg61)"/><path d="M389.35,500.00 L390.35,429.94 C390.35,427.54 392.42,426.24 394.96,426.24 C397.50,426.24 399.57,427.54 399.57,429.94 L398.57,500.00 Z" fill="url(#lg62)"/></g></g><g filter="url(#df68)"><g opacity="0.800"><rect x="37.70" y="424.00" width="357.70" height="80.00" fill="#000" filter="url(#nf69)"/></g><g opacity="0.700"><rect x="37.70" y="424.00" width="357.70" height="80.00" fill="#000" filter="url(#nf70)"/></g></g><rect x="47.70" y="418.00" width="337.70" height="76.00" fill="url(#lg71)"/></g>
<g clip-path="url(#cp78)"><rect x="493.50" y="303.00" width="137.10" height="76.00" fill="#fcfbfa"/><g filter="url(#bf73)"><ellipse cx="598.00" cy="338.00" rx="22.00" ry="20.00" fill="#dedede" fill-opacity="1.000"/><ellipse cx="596.00" cy="343.00" rx="10.00" ry="9.00" fill="#d2d2d2" fill-opacity="1.000"/><ellipse cx="540.00" cy="320.00" rx="10.00" ry="16.00" fill="#dadada" fill-opacity="1.000"/><ellipse cx="537.00" cy="315.00" rx="4.00" ry="7.00" fill="#c8c8c8" fill-opacity="1.000"/><path d="M506,326 C515,320 528,328 536,336 C545,342 556,336 566,336 C574,338 576,350 570,356 C560,362 545,366 532,364 C522,360 512,346 506,338 Z" fill="#f8cdb9"/><ellipse cx="530.00" cy="353.00" rx="9.00" ry="8.00" fill="#f2a689" fill-opacity="1.000"/><ellipse cx="520.00" cy="338.00" rx="7.00" ry="6.00" fill="#f6bea6" fill-opacity="1.000"/><ellipse cx="562.00" cy="344.00" rx="8.00" ry="8.00" fill="#f5bca4" fill-opacity="1.000"/><ellipse cx="591.00" cy="360.00" rx="12.00" ry="4.00" fill="#f8d0c0" fill-opacity="1.000"/><ellipse cx="616.00" cy="316.00" rx="11.00" ry="11.00" fill="#f5bca3" fill-opacity="1.000"/><ellipse cx="555.00" cy="312.00" rx="9.00" ry="7.00" fill="#f8cdb9" fill-opacity="1.000"/><ellipse cx="497.00" cy="326.00" rx="3.00" ry="13.00" fill="#e47a64" fill-opacity="1.000"/><ellipse cx="496.50" cy="318.00" rx="2.00" ry="4.00" fill="#c83c3c" fill-opacity="1.000"/><ellipse cx="503.00" cy="322.00" rx="3.00" ry="7.00" fill="#e8907a" fill-opacity="1.000"/><ellipse cx="505.00" cy="308.00" rx="6.00" ry="4.00" fill="#f0a084" fill-opacity="1.000"/><ellipse cx="514.00" cy="306.00" rx="6.00" ry="2.50" fill="#c8c8c8" fill-opacity="1.000"/><ellipse cx="497.00" cy="307.00" rx="2.00" ry="3.00" fill="#b8b8b8" fill-opacity="1.000"/><ellipse cx="504.00" cy="350.00" rx="6.00" ry="8.00" fill="#acacac" fill-opacity="1.000"/><ellipse cx="501.00" cy="346.00" rx="2.50" ry="3.00" fill="#909090" fill-opacity="1.000"/><ellipse cx="500.00" cy="364.00" rx="4.00" ry="4.00" fill="#d0564a" fill-opacity="1.000"/><ellipse cx="512.00" cy="372.00" rx="4.00" ry="5.00" fill="#c84646" fill-opacity="1.000"/><ellipse cx="525.00" cy="374.00" rx="5.00" ry="3.50" fill="#b4b4b4" fill-opacity="1.000"/><ellipse cx="558.00" cy="373.00" rx="6.00" ry="4.00" fill="#9a9a9a" fill-opacity="1.000"/><ellipse cx="545.00" cy="372.00" rx="4.00" ry="3.00" fill="#f0a890" fill-opacity="1.000"/><ellipse cx="572.00" cy="372.00" rx="5.00" ry="4.00" fill="#f2a688" fill-opacity="1.000"/><ellipse cx="585.00" cy="375.00" rx="4.00" ry="3.00" fill="#e8907a" fill-opacity="1.000"/><ellipse cx="623.00" cy="339.00" rx="5.50" ry="12.00" fill="#a0183a" fill-opacity="1.000"/><ellipse cx="622.00" cy="335.00" rx="3.50" ry="5.00" fill="#6a0a28" fill-opacity="1.000"/><ellipse cx="626.00" cy="345.00" rx="3.00" ry="6.00" fill="#74102c" fill-opacity="1.000"/><ellipse cx="628.00" cy="322.00" rx="2.50" ry="8.00" fill="#e07a68" fill-opacity="1.000"/><ellipse cx="620.00" cy="361.00" rx="3.00" ry="4.00" fill="#8a8a8a" fill-opacity="1.000"/><ellipse cx="627.00" cy="367.00" rx="2.50" ry="4.00" fill="#d05a4a" fill-opacity="1.000"/><ellipse cx="627.00" cy="354.00" rx="2.50" ry="3.00" fill="#c8c8c8" fill-opacity="1.000"/><ellipse cx="609.00" cy="374.00" rx="3.50" ry="3.50" fill="#555555" fill-opacity="1.000"/><ellipse cx="603.00" cy="375.00" rx="3.00" ry="2.50" fill="#c03030" fill-opacity="1.000"/><ellipse cx="566.00" cy="308.00" rx="3.00" ry="4.00" fill="#9a9a9a" fill-opacity="1.000"/><ellipse cx="590.00" cy="306.00" rx="5.00" ry="3.00" fill="#f0a080" fill-opacity="1.000"/><ellipse cx="605.00" cy="305.00" rx="4.00" ry="2.00" fill="#e8907a" fill-opacity="1.000"/></g><g mask="url(#mk74)" opacity="0.700"><rect x="493.50" y="303.00" width="137.10" height="76.00" fill="#000" filter="url(#nf76)"/></g><g mask="url(#mk74)" opacity="0.600"><rect x="493.50" y="303.00" width="137.10" height="76.00" fill="#000" filter="url(#nf77)"/></g></g>
<g clip-path="url(#cp92)"><rect x="493.50" y="418.00" width="137.10" height="76.00" fill="#ef9c7f"/><g filter="url(#bf79)"><ellipse cx="555.00" cy="452.00" rx="18.00" ry="10.00" fill="#f6c2aa" fill-opacity="1.000"/><ellipse cx="528.00" cy="440.00" rx="10.00" ry="8.00" fill="#f8ccb8" fill-opacity="1.000"/><ellipse cx="600.00" cy="445.00" rx="10.00" ry="10.00" fill="#f6c0a8" fill-opacity="1.000"/><ellipse cx="552.00" cy="436.00" rx="8.00" ry="5.00" fill="#f9d4c2" fill-opacity="1.000"/><ellipse cx="575.00" cy="466.00" rx="14.00" ry="8.00" fill="#ea9072" fill-opacity="1.000"/><ellipse cx="540.00" cy="470.00" rx="10.00" ry="6.00" fill="#f4b498" fill-opacity="1.000"/><ellipse cx="515.00" cy="460.00" rx="8.00" ry="10.00" fill="#ec9678" fill-opacity="1.000"/><ellipse cx="610.00" cy="470.00" rx="8.00" ry="8.00" fill="#f2a88c" fill-opacity="1.000"/><ellipse cx="585.00" cy="440.00" rx="6.00" ry="6.00" fill="#ec9678" fill-opacity="1.000"/><ellipse cx="570.00" cy="433.00" rx="6.00" ry="3.00" fill="#fce6dc" fill-opacity="1.000"/></g><g opacity="0.750"><rect x="493.50" y="418.00" width="137.10" height="76.00" fill="#000" filter="url(#nf80)"/></g><g opacity="0.700"><rect x="493.50" y="418.00" width="137.10" height="76.00" fill="#000" filter="url(#nf81)"/></g><rect x="493.50" y="424.00" width="11" height="76.00" fill="url(#lg82)"/><rect x="618.60" y="424.00" width="12" height="76.00" fill="url(#lg83)"/><rect x="493.50" y="476.00" width="137.10" height="18" fill="url(#lg84)"/><g mask="url(#mk85)" opacity="0.950"><rect x="493.50" y="418.00" width="137.10" height="76.00" fill="#000" filter="url(#nf87)"/></g><g mask="url(#mk85)" opacity="0.700"><rect x="493.50" y="418.00" width="137.10" height="76.00" fill="#000" filter="url(#nf88)"/></g><g filter="url(#bf89)"><path d="M506.00,416.00 C506.33,416.83 507.00,419.58 508.00,421.00 C509.00,422.42 510.50,423.67 512.00,424.50 C513.50,425.33 515.50,426.25 517.00,426.00 C518.50,425.75 519.50,422.75 521.00,423.00 C522.50,423.25 524.17,426.42 526.00,427.50 C527.83,428.58 530.17,429.75 532.00,429.50 C533.83,429.25 535.33,426.33 537.00,426.00 C538.67,425.67 540.50,427.92 542.00,427.50 C543.50,427.08 544.92,425.08 546.00,423.50 C547.08,421.92 548.00,419.58 548.50,418.00 C549.00,416.42 548.92,414.67 549.00,414.00 Z" fill="#ffffff"/><path d="M562.00,414.00 C562.17,414.83 562.33,417.25 563.00,419.00 C563.67,420.75 564.67,422.92 566.00,424.50 C567.33,426.08 569.17,427.08 571.00,428.50 C572.83,429.92 575.00,431.92 577.00,433.00 C579.00,434.08 580.83,435.25 583.00,435.00 C585.17,434.75 587.83,432.58 590.00,431.50 C592.17,430.42 594.17,429.67 596.00,428.50 C597.83,427.33 599.50,425.75 601.00,424.50 C602.50,423.25 604.00,422.42 605.00,421.00 C606.00,419.58 606.50,417.17 607.00,416.00 C607.50,414.83 607.83,414.33 608.00,414.00 Z" fill="#ffffff"/><ellipse cx="616.00" cy="421.00" rx="3.50" ry="2.50" fill="#fdf4f0" fill-opacity="1.000"/><ellipse cx="626.00" cy="423.00" rx="2.50" ry="2.00" fill="#fbe8e0" fill-opacity="1.000"/><ellipse cx="500.00" cy="420.00" rx="3.00" ry="2.00" fill="#fbe4da" fill-opacity="1.000"/></g><g filter="url(#bf90)"><rect x="505.50" y="417.70" width="117.10" height="2" fill="#3a3a3a"/><ellipse cx="528.00" cy="420.00" rx="15.00" ry="2.80" fill="#9c9c9c" fill-opacity="1.000"/><ellipse cx="585.00" cy="421.00" rx="17.00" ry="3.20" fill="#8c8c8c" fill-opacity="1.000"/><ellipse cx="572.00" cy="424.00" rx="5.00" ry="2.50" fill="#b4b4b4" fill-opacity="1.000"/><ellipse cx="592.00" cy="426.00" rx="5.00" ry="2.00" fill="#c4c4c4" fill-opacity="1.000"/><ellipse cx="515.00" cy="422.00" rx="4.00" ry="2.00" fill="#c8c8c8" fill-opacity="1.000"/><ellipse cx="540.00" cy="423.00" rx="4.00" ry="2.00" fill="#c0c0c0" fill-opacity="1.000"/></g><g filter="url(#bf91)"><ellipse cx="556.00" cy="424.00" rx="6.00" ry="7.00" fill="#ee9478" fill-opacity="1.000"/><ellipse cx="560.00" cy="420.00" rx="3.00" ry="3.00" fill="#b83044" fill-opacity="1.000"/><ellipse cx="562.00" cy="418.50" rx="2.00" ry="1.50" fill="#6a0a28" fill-opacity="1.000"/></g></g>
<rect x="47.70" y="303.00" width="337.70" height="76.00" fill="none" stroke="#4c4c4c" stroke-width="1.15"/>
<rect x="47.70" y="418.00" width="337.70" height="76.00" fill="none" stroke="#4c4c4c" stroke-width="1.15"/>
<rect x="493.50" y="303.00" width="137.10" height="76.00" fill="none" stroke="#4c4c4c" stroke-width="1.15"/>
<rect x="493.50" y="418.00" width="137.10" height="76.00" fill="none" stroke="#4c4c4c" stroke-width="1.15"/>
<rect x="397.70" y="303.00" width="6.10" height="76.00" fill="url(#lg93)"/>
<rect x="397.70" y="303.00" width="6.10" height="76.00" fill="none" stroke="#404040" stroke-width="0.80"/>
<line x1="403.80" y1="303.00" x2="406.80" y2="303.00" stroke="#222" stroke-width="0.9"/>
<text x="409.40" y="307.30" text-anchor="start" font-size="12.60" font-family="Liberation Serif, serif" fill="#111" stroke="#fff" stroke-width="0.12">1.6</text>
<line x1="403.80" y1="322.00" x2="406.80" y2="322.00" stroke="#222" stroke-width="0.9"/>
<text x="409.40" y="326.30" text-anchor="start" font-size="12.60" font-family="Liberation Serif, serif" fill="#111" stroke="#fff" stroke-width="0.12">1.2</text>
<line x1="403.80" y1="341.00" x2="406.80" y2="341.00" stroke="#222" stroke-width="0.9"/>
<text x="409.40" y="345.30" text-anchor="start" font-size="12.60" font-family="Liberation Serif, serif" fill="#111" stroke="#fff" stroke-width="0.12">0.8</text>
<line x1="403.80" y1="360.00" x2="406.80" y2="360.00" stroke="#222" stroke-width="0.9"/>
<text x="409.40" y="364.30" text-anchor="start" font-size="12.60" font-family="Liberation Serif, serif" fill="#111" stroke="#fff" stroke-width="0.12">0.4</text>
<line x1="403.80" y1="379.00" x2="406.80" y2="379.00" stroke="#222" stroke-width="0.9"/>
<text x="409.40" y="383.30" text-anchor="start" font-size="12.60" font-family="Liberation Serif, serif" fill="#111" stroke="#fff" stroke-width="0.12">0.0</text>
<rect x="397.70" y="418.00" width="6.10" height="76.00" fill="url(#lg94)"/>
<rect x="397.70" y="418.00" width="6.10" height="76.00" fill="none" stroke="#404040" stroke-width="0.80"/>
<line x1="403.80" y1="418.00" x2="406.80" y2="418.00" stroke="#222" stroke-width="0.9"/>
<text x="409.40" y="422.30" text-anchor="start" font-size="12.60" font-family="Liberation Serif, serif" fill="#111" stroke="#fff" stroke-width="0.12">1.10</text>
<line x1="403.80" y1="437.00" x2="406.80" y2="437.00" stroke="#222" stroke-width="0.9"/>
<text x="409.40" y="441.30" text-anchor="start" font-size="12.60" font-family="Liberation Serif, serif" fill="#111" stroke="#fff" stroke-width="0.12">1.07</text>
<line x1="403.80" y1="456.00" x2="406.80" y2="456.00" stroke="#222" stroke-width="0.9"/>
<text x="409.40" y="460.30" text-anchor="start" font-size="12.60" font-family="Liberation Serif, serif" fill="#111" stroke="#fff" stroke-width="0.12">1.04</text>
<line x1="403.80" y1="475.00" x2="406.80" y2="475.00" stroke="#222" stroke-width="0.9"/>
<text x="409.40" y="479.30" text-anchor="start" font-size="12.60" font-family="Liberation Serif, serif" fill="#111" stroke="#fff" stroke-width="0.12">1.01</text>
<line x1="403.80" y1="494.00" x2="406.80" y2="494.00" stroke="#222" stroke-width="0.9"/>
<text x="409.40" y="498.30" text-anchor="start" font-size="12.60" font-family="Liberation Serif, serif" fill="#111" stroke="#fff" stroke-width="0.12">0.98</text>
<rect x="642.80" y="303.00" width="6.00" height="76.00" fill="url(#lg95)"/>
<rect x="642.80" y="303.00" width="6.00" height="76.00" fill="none" stroke="#404040" stroke-width="0.80"/>
<line x1="648.80" y1="303.00" x2="651.80" y2="303.00" stroke="#222" stroke-width="0.9"/>
<text x="654.40" y="307.30" text-anchor="start" font-size="12.60" font-family="Liberation Serif, serif" fill="#111" stroke="#fff" stroke-width="0.12">2.0</text>
<line x1="648.80" y1="322.00" x2="651.80" y2="322.00" stroke="#222" stroke-width="0.9"/>
<text x="654.40" y="326.30" text-anchor="start" font-size="12.60" font-family="Liberation Serif, serif" fill="#111" stroke="#fff" stroke-width="0.12">1.0</text>
<line x1="648.80" y1="341.00" x2="651.80" y2="341.00" stroke="#222" stroke-width="0.9"/>
<text x="654.40" y="345.30" text-anchor="start" font-size="12.60" font-family="Liberation Serif, serif" fill="#111" stroke="#fff" stroke-width="0.12">0.0</text>
<line x1="648.80" y1="360.00" x2="651.80" y2="360.00" stroke="#222" stroke-width="0.9"/>
<text x="654.40" y="364.30" text-anchor="start" font-size="12.60" font-family="Liberation Serif, serif" fill="#111" stroke="#fff" stroke-width="0.12" textLength="26.5" lengthAdjust="spacing">&#8722;1.0</text>
<line x1="648.80" y1="379.00" x2="651.80" y2="379.00" stroke="#222" stroke-width="0.9"/>
<text x="654.40" y="383.30" text-anchor="start" font-size="12.60" font-family="Liberation Serif, serif" fill="#111" stroke="#fff" stroke-width="0.12" textLength="26.5" lengthAdjust="spacing">&#8722;2.0</text>
<rect x="642.80" y="418.00" width="6.00" height="76.00" fill="url(#lg96)"/>
<rect x="642.80" y="418.00" width="6.00" height="76.00" fill="none" stroke="#404040" stroke-width="0.80"/>
<line x1="648.80" y1="418.00" x2="651.80" y2="418.00" stroke="#222" stroke-width="0.9"/>
<text x="654.40" y="422.30" text-anchor="start" font-size="12.60" font-family="Liberation Serif, serif" fill="#111" stroke="#fff" stroke-width="0.12">1.50</text>
<line x1="648.80" y1="437.00" x2="651.80" y2="437.00" stroke="#222" stroke-width="0.9"/>
<text x="654.40" y="441.30" text-anchor="start" font-size="12.60" font-family="Liberation Serif, serif" fill="#111" stroke="#fff" stroke-width="0.12">1.25</text>
<line x1="648.80" y1="456.00" x2="651.80" y2="456.00" stroke="#222" stroke-width="0.9"/>
<text x="654.40" y="460.30" text-anchor="start" font-size="12.60" font-family="Liberation Serif, serif" fill="#111" stroke="#fff" stroke-width="0.12">1.00</text>
<line x1="648.80" y1="475.00" x2="651.80" y2="475.00" stroke="#222" stroke-width="0.9"/>
<text x="654.40" y="479.30" text-anchor="start" font-size="12.60" font-family="Liberation Serif, serif" fill="#111" stroke="#fff" stroke-width="0.12">0.75</text>
<line x1="648.80" y1="494.00" x2="651.80" y2="494.00" stroke="#222" stroke-width="0.9"/>
<text x="654.40" y="498.30" text-anchor="start" font-size="12.60" font-family="Liberation Serif, serif" fill="#111" stroke="#fff" stroke-width="0.12">0.50</text>
<line x1="99.32" y1="379.00" x2="99.32" y2="382.00" stroke="#222" stroke-width="0.9"/>
<text x="99.32" y="394.30" text-anchor="middle" font-size="12.60" font-family="Liberation Serif, serif" fill="#111" stroke="#fff" stroke-width="0.12">2</text>
<line x1="150.94" y1="379.00" x2="150.94" y2="382.00" stroke="#222" stroke-width="0.9"/>
<text x="150.94" y="394.30" text-anchor="middle" font-size="12.60" font-family="Liberation Serif, serif" fill="#111" stroke="#fff" stroke-width="0.12">4</text>
<line x1="202.56" y1="379.00" x2="202.56" y2="382.00" stroke="#222" stroke-width="0.9"/>
<text x="202.56" y="394.30" text-anchor="middle" font-size="12.60" font-family="Liberation Serif, serif" fill="#111" stroke="#fff" stroke-width="0.12">6</text>
<line x1="254.18" y1="379.00" x2="254.18" y2="382.00" stroke="#222" stroke-width="0.9"/>
<text x="254.18" y="394.30" text-anchor="middle" font-size="12.60" font-family="Liberation Serif, serif" fill="#111" stroke="#fff" stroke-width="0.12">8</text>
<line x1="305.80" y1="379.00" x2="305.80" y2="382.00" stroke="#222" stroke-width="0.9"/>
<text x="305.80" y="394.30" text-anchor="middle" font-size="12.60" font-family="Liberation Serif, serif" fill="#111" stroke="#fff" stroke-width="0.12">10</text>
<line x1="357.42" y1="379.00" x2="357.42" y2="382.00" stroke="#222" stroke-width="0.9"/>
<text x="357.42" y="394.30" text-anchor="middle" font-size="12.60" font-family="Liberation Serif, serif" fill="#111" stroke="#fff" stroke-width="0.12">12</text>
<text x="46.00" y="389.90" text-anchor="middle" font-size="12.60" font-family="Liberation Serif, serif" fill="#111" stroke="#fff" stroke-width="0.12">0</text>
<line x1="44.70" y1="353.82" x2="47.70" y2="353.82" stroke="#222" stroke-width="0.9"/>
<text x="42.70" y="358.12" text-anchor="end" font-size="12.60" font-family="Liberation Serif, serif" fill="#111" stroke="#fff" stroke-width="0.12">0.25</text>
<line x1="44.70" y1="328.65" x2="47.70" y2="328.65" stroke="#222" stroke-width="0.9"/>
<text x="42.70" y="332.95" text-anchor="end" font-size="12.60" font-family="Liberation Serif, serif" fill="#111" stroke="#fff" stroke-width="0.12">0.50</text>
<line x1="545.00" y1="379.00" x2="545.00" y2="382.00" stroke="#222" stroke-width="0.9"/>
<text x="545.00" y="394.30" text-anchor="middle" font-size="12.60" font-family="Liberation Serif, serif" fill="#111" stroke="#fff" stroke-width="0.12">0.5</text>
<line x1="596.50" y1="379.00" x2="596.50" y2="382.00" stroke="#222" stroke-width="0.9"/>
<text x="596.50" y="394.30" text-anchor="middle" font-size="12.60" font-family="Liberation Serif, serif" fill="#111" stroke="#fff" stroke-width="0.12">1.0</text>
<text x="485.30" y="389.90" text-anchor="middle" font-size="12.60" font-family="Liberation Serif, serif" fill="#111" stroke="#fff" stroke-width="0.12">0</text>
<line x1="490.50" y1="353.82" x2="493.50" y2="353.82" stroke="#222" stroke-width="0.9"/>
<text x="488.50" y="358.12" text-anchor="end" font-size="12.60" font-family="Liberation Serif, serif" fill="#111" stroke="#fff" stroke-width="0.12">0.25</text>
<line x1="490.50" y1="328.65" x2="493.50" y2="328.65" stroke="#222" stroke-width="0.9"/>
<text x="488.50" y="332.95" text-anchor="end" font-size="12.60" font-family="Liberation Serif, serif" fill="#111" stroke="#fff" stroke-width="0.12">0.50</text>
<text x="216.05" y="405.20" text-anchor="middle" font-size="13.60" font-family="Liberation Serif, serif" fill="#111" stroke="#fff" stroke-width="0.12" textLength="29.50" lengthAdjust="spacing"><tspan font-style="italic">x</tspan><tspan dx="0.5" dy="1.3" font-size="16.59">/</tspan><tspan font-style="italic" dx="0.3" dy="-1.3">D</tspan><tspan font-style="italic" font-size="9.52" dy="2.60">h</tspan></text>
<text x="562.05" y="405.20" text-anchor="middle" font-size="13.60" font-family="Liberation Serif, serif" fill="#111" stroke="#fff" stroke-width="0.12" textLength="29.50" lengthAdjust="spacing"><tspan font-style="italic">y</tspan><tspan dx="0.5" dy="1.3" font-size="16.59">/</tspan><tspan font-style="italic" dx="0.3" dy="-1.3">D</tspan><tspan font-style="italic" font-size="9.52" dy="2.60">h</tspan></text>
<text transform="translate(11.90,359.30) rotate(-90)" text-anchor="start" font-size="13.60" font-family="Liberation Serif, serif" fill="#111" stroke="#fff" stroke-width="0.12" textLength="29.60" lengthAdjust="spacing"><tspan font-style="italic">z</tspan><tspan dx="0.5" dy="1.3" font-size="16.59">/</tspan><tspan font-style="italic" dx="0.3" dy="-1.3">D</tspan><tspan font-style="italic" font-size="9.52" dy="2.60">h</tspan></text>
<text transform="translate(457.90,359.30) rotate(-90)" text-anchor="start" font-size="13.60" font-family="Liberation Serif, serif" fill="#111" stroke="#fff" stroke-width="0.12" textLength="29.60" lengthAdjust="spacing"><tspan font-style="italic">z</tspan><tspan dx="0.5" dy="1.3" font-size="16.59">/</tspan><tspan font-style="italic" dx="0.3" dy="-1.3">D</tspan><tspan font-style="italic" font-size="9.52" dy="2.60">h</tspan></text>
<line x1="99.32" y1="494.00" x2="99.32" y2="497.00" stroke="#222" stroke-width="0.9"/>
<text x="99.32" y="509.30" text-anchor="middle" font-size="12.60" font-family="Liberation Serif, serif" fill="#111" stroke="#fff" stroke-width="0.12">2</text>
<line x1="150.94" y1="494.00" x2="150.94" y2="497.00" stroke="#222" stroke-width="0.9"/>
<text x="150.94" y="509.30" text-anchor="middle" font-size="12.60" font-family="Liberation Serif, serif" fill="#111" stroke="#fff" stroke-width="0.12">4</text>
<line x1="202.56" y1="494.00" x2="202.56" y2="497.00" stroke="#222" stroke-width="0.9"/>
<text x="202.56" y="509.30" text-anchor="middle" font-size="12.60" font-family="Liberation Serif, serif" fill="#111" stroke="#fff" stroke-width="0.12">6</text>
<line x1="254.18" y1="494.00" x2="254.18" y2="497.00" stroke="#222" stroke-width="0.9"/>
<text x="254.18" y="509.30" text-anchor="middle" font-size="12.60" font-family="Liberation Serif, serif" fill="#111" stroke="#fff" stroke-width="0.12">8</text>
<line x1="305.80" y1="494.00" x2="305.80" y2="497.00" stroke="#222" stroke-width="0.9"/>
<text x="305.80" y="509.30" text-anchor="middle" font-size="12.60" font-family="Liberation Serif, serif" fill="#111" stroke="#fff" stroke-width="0.12">10</text>
<line x1="357.42" y1="494.00" x2="357.42" y2="497.00" stroke="#222" stroke-width="0.9"/>
<text x="357.42" y="509.30" text-anchor="middle" font-size="12.60" font-family="Liberation Serif, serif" fill="#111" stroke="#fff" stroke-width="0.12">12</text>
<text x="46.00" y="504.90" text-anchor="middle" font-size="12.60" font-family="Liberation Serif, serif" fill="#111" stroke="#fff" stroke-width="0.12">0</text>
<line x1="44.70" y1="468.82" x2="47.70" y2="468.82" stroke="#222" stroke-width="0.9"/>
<text x="42.70" y="473.12" text-anchor="end" font-size="12.60" font-family="Liberation Serif, serif" fill="#111" stroke="#fff" stroke-width="0.12">0.25</text>
<line x1="44.70" y1="443.65" x2="47.70" y2="443.65" stroke="#222" stroke-width="0.9"/>
<text x="42.70" y="447.95" text-anchor="end" font-size="12.60" font-family="Liberation Serif, serif" fill="#111" stroke="#fff" stroke-width="0.12">0.50</text>
<line x1="545.00" y1="494.00" x2="545.00" y2="497.00" stroke="#222" stroke-width="0.9"/>
<text x="545.00" y="509.30" text-anchor="middle" font-size="12.60" font-family="Liberation Serif, serif" fill="#111" stroke="#fff" stroke-width="0.12">0.5</text>
<line x1="596.50" y1="494.00" x2="596.50" y2="497.00" stroke="#222" stroke-width="0.9"/>
<text x="596.50" y="509.30" text-anchor="middle" font-size="12.60" font-family="Liberation Serif, serif" fill="#111" stroke="#fff" stroke-width="0.12">1.0</text>
<text x="485.30" y="504.90" text-anchor="middle" font-size="12.60" font-family="Liberation Serif, serif" fill="#111" stroke="#fff" stroke-width="0.12">0</text>
<line x1="490.50" y1="468.82" x2="493.50" y2="468.82" stroke="#222" stroke-width="0.9"/>
<text x="488.50" y="473.12" text-anchor="end" font-size="12.60" font-family="Liberation Serif, serif" fill="#111" stroke="#fff" stroke-width="0.12">0.25</text>
<line x1="490.50" y1="443.65" x2="493.50" y2="443.65" stroke="#222" stroke-width="0.9"/>
<text x="488.50" y="447.95" text-anchor="end" font-size="12.60" font-family="Liberation Serif, serif" fill="#111" stroke="#fff" stroke-width="0.12">0.50</text>
<text x="216.05" y="520.20" text-anchor="middle" font-size="13.60" font-family="Liberation Serif, serif" fill="#111" stroke="#fff" stroke-width="0.12" textLength="29.50" lengthAdjust="spacing"><tspan font-style="italic">x</tspan><tspan dx="0.5" dy="1.3" font-size="16.59">/</tspan><tspan font-style="italic" dx="0.3" dy="-1.3">D</tspan><tspan font-style="italic" font-size="9.52" dy="2.60">h</tspan></text>
<text x="562.05" y="520.20" text-anchor="middle" font-size="13.60" font-family="Liberation Serif, serif" fill="#111" stroke="#fff" stroke-width="0.12" textLength="29.50" lengthAdjust="spacing"><tspan font-style="italic">y</tspan><tspan dx="0.5" dy="1.3" font-size="16.59">/</tspan><tspan font-style="italic" dx="0.3" dy="-1.3">D</tspan><tspan font-style="italic" font-size="9.52" dy="2.60">h</tspan></text>
<text transform="translate(11.90,474.30) rotate(-90)" text-anchor="start" font-size="13.60" font-family="Liberation Serif, serif" fill="#111" stroke="#fff" stroke-width="0.12" textLength="29.60" lengthAdjust="spacing"><tspan font-style="italic">z</tspan><tspan dx="0.5" dy="1.3" font-size="16.59">/</tspan><tspan font-style="italic" dx="0.3" dy="-1.3">D</tspan><tspan font-style="italic" font-size="9.52" dy="2.60">h</tspan></text>
<text transform="translate(457.90,474.30) rotate(-90)" text-anchor="start" font-size="13.60" font-family="Liberation Serif, serif" fill="#111" stroke="#fff" stroke-width="0.12" textLength="29.60" lengthAdjust="spacing"><tspan font-style="italic">z</tspan><tspan dx="0.5" dy="1.3" font-size="16.59">/</tspan><tspan font-style="italic" dx="0.3" dy="-1.3">D</tspan><tspan font-style="italic" font-size="9.52" dy="2.60">h</tspan></text>
<text x="388.50" y="294.00" text-anchor="start" font-size="13.60" font-family="Liberation Serif, serif" fill="#111" stroke="#fff" stroke-width="0.12" textLength="27.60" lengthAdjust="spacing"><tspan font-style="italic">u</tspan><tspan dx="0.5" dy="1.3" font-size="16.59">/</tspan><tspan font-style="italic" dx="0.3" dy="-1.3">U</tspan><tspan font-style="italic" font-size="9.52" dy="2.60">b</tspan></text>
<text x="386.10" y="408.70" text-anchor="start" font-size="13.60" font-family="Liberation Serif, serif" fill="#111" stroke="#fff" stroke-width="0.12" textLength="28.20" lengthAdjust="spacing"><tspan font-style="italic">T</tspan><tspan dx="0.5" dy="1.3" font-size="16.59">/</tspan><tspan font-style="italic" dx="0.3" dy="-1.3">T</tspan><tspan font-style="italic" font-size="9.52" dy="2.60">c</tspan></text>
<text x="634.20" y="294.10" text-anchor="start" font-size="13.60" font-family="Liberation Serif, serif" fill="#111" stroke="#fff" stroke-width="0.12" textLength="27.40" lengthAdjust="spacing"><tspan font-style="italic">v</tspan><tspan dx="0.5" dy="1.3" font-size="16.59">/</tspan><tspan font-style="italic" dx="0.3" dy="-1.3">U</tspan><tspan font-style="italic" font-size="9.52" dy="2.60">b</tspan></text>
<text x="634.00" y="406.40" text-anchor="start" font-size="13.60" font-family="Liberation Serif, serif" fill="#111" stroke="#fff" stroke-width="0.12" textLength="25.20" lengthAdjust="spacing"><tspan font-style="italic">&#961;</tspan><tspan dx="0.5" dy="1.3" font-size="16.59">/</tspan><tspan font-style="italic" dx="0.3" dy="-1.3">&#961;</tspan><tspan font-style="italic" font-size="9.52" dy="2.60">c</tspan></text>
<text x="629.20" y="300.70" text-anchor="end" font-size="14.20" font-family="Liberation Serif, serif" fill="#111" stroke="#fff" stroke-width="0.12"><tspan font-size="14">&#215;</tspan><tspan dx="0.6">10</tspan><tspan font-size="10" dy="-6" dx="0.3">&#8722;1</tspan></text>
<text x="343.20" y="553.50" text-anchor="middle" font-size="12" font-weight="bold" font-family="Liberation Sans, sans-serif">(b)</text>
</g>
</svg>
</body></html>
